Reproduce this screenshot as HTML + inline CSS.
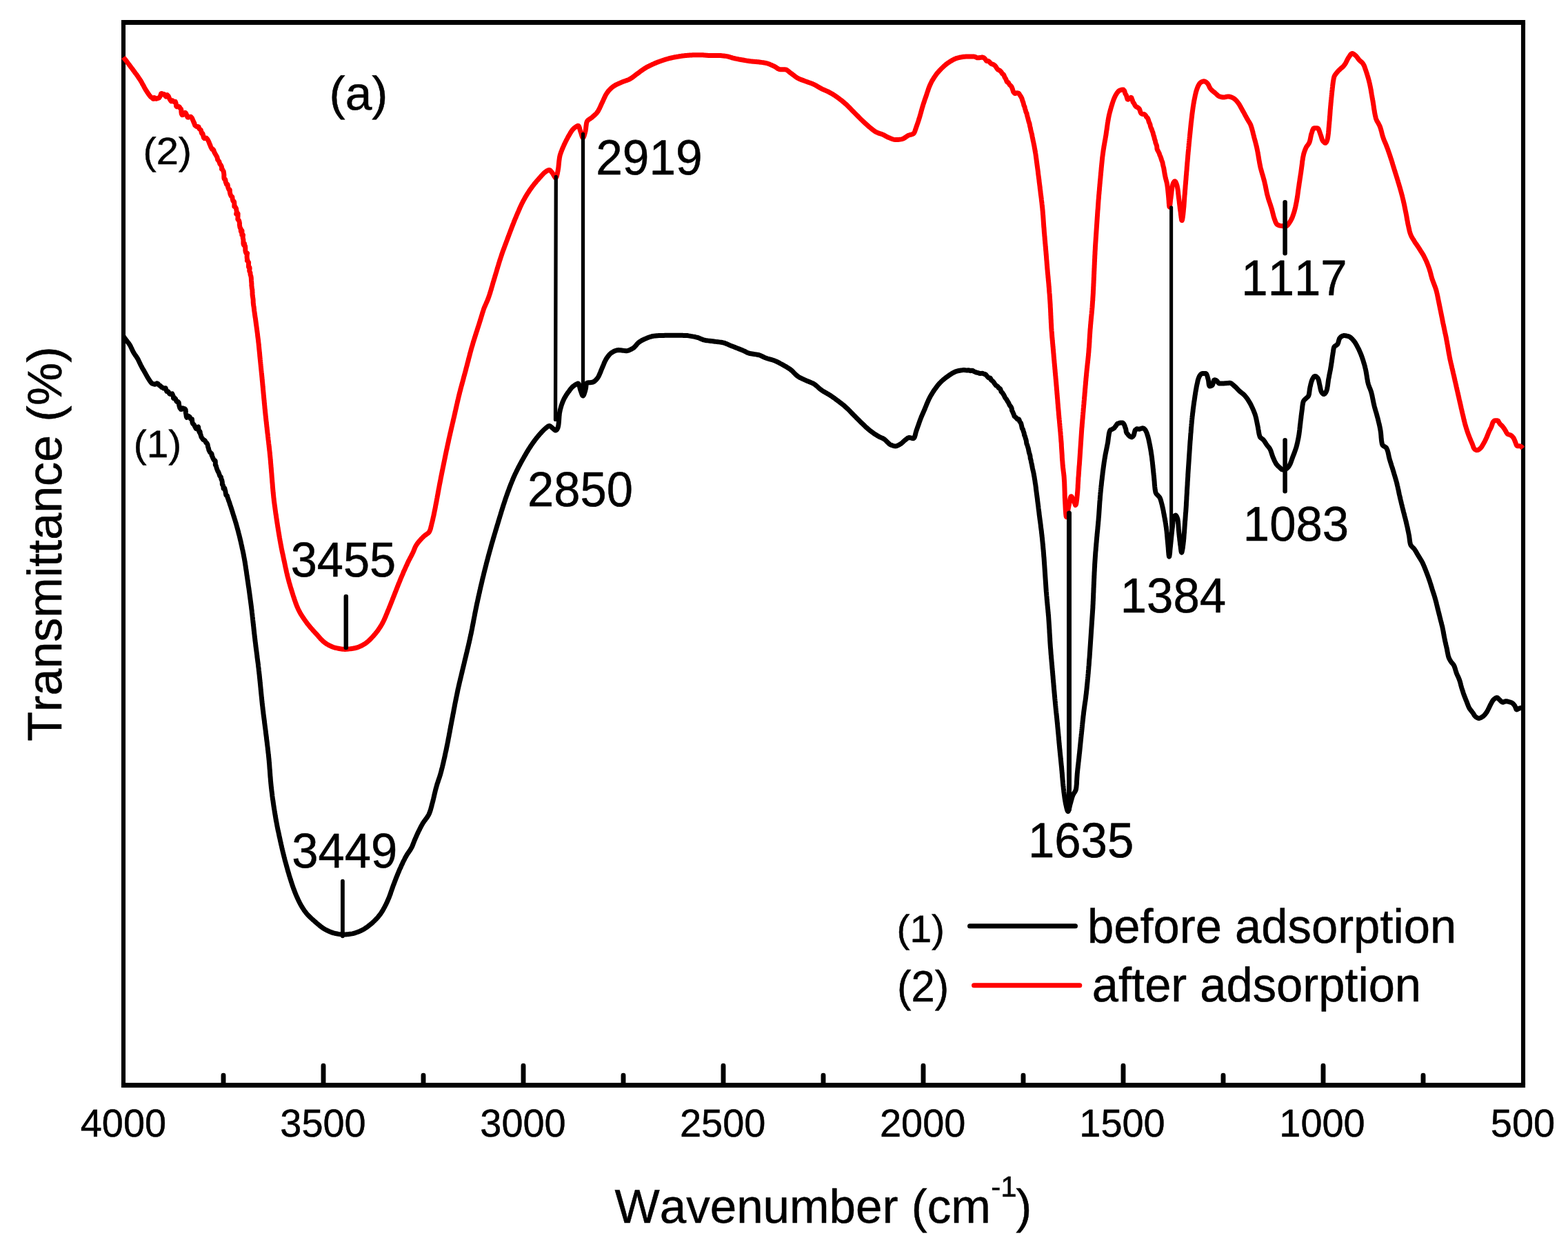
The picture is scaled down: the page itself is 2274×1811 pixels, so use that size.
<!DOCTYPE html>
<html lang="en">
<head>
<meta charset="utf-8">
<title>FTIR spectra before and after adsorption</title>
<style>
html,body{margin:0;padding:0;background:#fff;}
body{width:2274px;height:1811px;overflow:hidden;font-family:"Liberation Sans", sans-serif;}
svg{display:block;}
</style>
</head>
<body>
<svg width="2274" height="1811" viewBox="0 0 2274 1811" font-family='"Liberation Sans", sans-serif' fill="#000" style="font-kerning:none" text-rendering="geometricPrecision">
<g id="frame" stroke="#000" fill="none"><line x1="175.95" y1="32.55" x2="2212.05" y2="32.55" stroke-width="7.0"/><line x1="175.95" y1="1573.4" x2="2212.05" y2="1573.4" stroke-width="7.0"/><line x1="179.0" y1="32.55" x2="179.0" y2="1573.4" stroke-width="6.1"/><line x1="2209.0" y1="32.55" x2="2209.0" y2="1573.4" stroke-width="6.1"/></g>
<path id="ticks" d="M469.0,1573.4 V1545.3 M759.0,1573.4 V1545.3 M1049.0,1573.4 V1545.3 M1339.0,1573.4 V1545.3 M1629.0,1573.4 V1545.3 M1919.0,1573.4 V1545.3 M324.0,1573.4 V1559.2 M614.0,1573.4 V1559.2 M904.0,1573.4 V1559.2 M1194.0,1573.4 V1559.2 M1484.0,1573.4 V1559.2 M1774.0,1573.4 V1559.2 M2064.0,1573.4 V1559.2" stroke="#000" stroke-width="6.9" fill="none" stroke-linecap="round"/>
<path id="spectrum-before" d="M179.0,487.5 L179.8,488.7 L180.7,490.0 L181.6,491.2 L182.4,492.4 L183.3,493.6 L184.3,494.8 L185.2,496.0 L186.2,497.2 L187.1,498.4 L187.9,499.6 L188.7,500.9 L189.4,502.2 L190.0,503.5 L190.7,504.9 L191.3,506.3 L191.9,507.6 L192.6,509.0 L193.3,510.3 L194.0,511.6 L194.8,512.9 L195.6,514.1 L196.5,515.4 L197.4,516.6 L198.2,517.8 L199.0,519.1 L199.8,520.4 L200.5,521.7 L201.1,523.1 L201.8,524.4 L202.4,525.8 L203.1,527.1 L203.7,528.5 L204.4,529.9 L205.1,531.2 L205.8,532.5 L206.5,533.8 L207.2,535.1 L208.0,536.4 L208.8,537.7 L209.5,539.0 L210.3,540.3 L211.0,541.6 L211.7,542.9 L212.5,544.3 L213.2,545.6 L213.9,546.9 L214.7,548.2 L215.5,549.5 L216.4,550.8 L217.2,552.1 L218.1,553.4 L219.2,554.8 L220.4,556.0 L221.4,556.6 L222.6,556.7 L224.5,557.3 L226.0,556.9 L227.5,555.7 L229.2,556.4 L230.4,558.1 L231.4,559.1 L232.3,559.2 L233.1,560.0 L234.3,561.4 L236.0,562.1 L237.3,563.0 L238.7,563.1 L240.1,562.7 L240.9,565.0 L241.8,567.4 L242.9,567.3 L244.1,567.9 L245.1,569.8 L246.1,571.2 L247.8,571.7 L249.4,570.9 L249.7,570.8 L250.5,572.7 L251.4,575.1 L251.5,577.3 L252.1,577.8 L253.4,577.1 L254.8,578.8 L255.9,581.9 L257.1,582.9 L258.4,582.6 L259.2,583.8 L259.5,586.0 L259.8,588.1 L260.4,590.1 L260.8,591.4 L261.5,592.2 L262.4,593.6 L263.4,593.6 L265.1,591.9 L266.7,592.5 L267.4,593.0 L268.2,592.8 L269.2,594.4 L269.3,596.6 L269.5,599.1 L269.9,601.2 L270.2,603.6 L270.8,605.4 L271.9,604.9 L273.5,603.4 L275.0,604.4 L276.4,607.2 L277.7,607.7 L278.4,607.7 L278.6,609.4 L278.8,611.5 L279.2,613.4 L279.8,614.4 L280.8,615.2 L281.8,616.6 L282.5,618.2 L283.1,619.3 L284.2,621.5 L285.7,622.1 L287.1,619.3 L287.6,619.0 L288.2,623.8 L289.2,626.8 L289.8,625.5 L290.1,626.0 L290.4,628.7 L290.8,629.9 L291.3,631.1 L291.8,633.2 L292.8,634.9 L293.7,636.0 L294.3,637.1 L295.3,637.8 L296.6,638.4 L297.5,639.4 L298.2,640.7 L298.9,642.0 L300.0,642.6 L301.1,644.7 L301.6,647.9 L302.0,649.1 L302.4,650.0 L302.7,651.5 L302.8,652.3 L303.5,653.8 L304.5,655.8 L305.3,656.6 L306.6,657.4 L307.3,659.3 L307.0,660.0 L307.0,660.2 L307.8,661.7 L309.1,664.8 L310.2,667.1 L310.9,667.4 L311.6,667.5 L312.2,668.3 L312.4,671.2 L312.3,674.1 L312.7,674.6 L313.3,675.4 L313.9,677.7 L314.6,680.0 L315.5,682.3 L316.3,684.1 L316.4,683.9 L316.5,683.8 L317.1,685.3 L317.8,687.1 L318.3,688.7 L318.8,690.2 L319.5,690.8 L320.4,691.7 L320.8,694.0 L320.9,695.0 L321.7,696.0 L322.4,699.4 L322.3,702.0 L322.5,702.8 L323.1,702.9 L323.8,704.9 L324.1,708.4 L324.7,708.7 L325.6,707.6 L326.0,708.9 L326.3,710.5 L326.8,711.8 L327.1,713.6 L327.4,715.7 L327.8,717.8 L328.6,718.5 L329.4,718.7 L329.8,720.3 L330.3,722.2 L331.1,724.1 L331.5,725.7 L332.0,726.9 L332.6,728.3 L333.1,730.1 L333.5,731.4 L333.9,732.5 L334.4,733.9 L334.9,735.4 L335.3,736.8 L335.8,738.2 L336.3,739.7 L336.7,741.1 L337.2,742.5 L337.6,744.0 L338.1,745.4 L338.5,746.8 L339.0,748.3 L339.4,749.7 L339.9,751.1 L340.3,752.6 L340.8,754.0 L341.2,755.4 L341.6,756.9 L342.1,758.3 L342.5,759.7 L342.9,761.2 L343.3,762.6 L343.7,764.1 L344.1,765.5 L344.5,767.0 L344.9,768.4 L345.3,769.9 L345.7,771.3 L346.0,772.8 L346.4,774.2 L346.8,775.7 L347.2,777.1 L347.5,778.6 L347.9,780.0 L348.2,781.5 L348.6,783.0 L348.9,784.4 L349.3,785.9 L349.6,787.4 L349.9,788.8 L350.3,790.3 L350.6,791.7 L350.9,793.2 L351.2,794.7 L351.5,796.1 L351.9,797.6 L352.2,799.1 L352.5,800.6 L352.8,802.0 L353.1,803.5 L353.4,805.0 L353.6,806.4 L353.9,807.9 L354.2,809.4 L354.5,810.9 L354.7,812.3 L355.0,813.8 L355.2,815.3 L355.5,816.8 L355.7,818.3 L355.9,819.7 L356.2,821.2 L356.4,822.7 L356.6,824.2 L356.8,825.7 L357.1,827.2 L357.3,828.7 L357.5,830.1 L357.7,831.6 L357.9,833.1 L358.1,834.6 L358.4,836.1 L358.6,837.6 L358.8,839.0 L359.0,840.5 L359.2,842.0 L359.5,843.5 L359.7,845.0 L359.9,846.5 L360.1,848.0 L360.3,849.4 L360.5,850.9 L360.8,852.4 L361.0,853.9 L361.2,855.4 L361.4,856.9 L361.6,858.4 L361.8,859.8 L362.0,861.3 L362.2,862.8 L362.4,864.3 L362.6,865.8 L362.8,867.3 L363.0,868.8 L363.2,870.3 L363.4,871.7 L363.6,873.2 L363.8,874.7 L364.0,876.2 L364.2,877.7 L364.4,879.2 L364.6,880.7 L364.7,882.2 L364.9,883.6 L365.1,885.1 L365.3,886.6 L365.4,888.1 L365.6,889.6 L365.8,891.1 L366.0,892.6 L366.1,894.1 L366.3,895.6 L366.5,897.1 L366.6,898.6 L366.8,900.1 L366.9,901.5 L367.1,903.0 L367.3,904.5 L367.4,906.0 L367.6,907.5 L367.8,909.0 L367.9,910.5 L368.1,912.0 L368.2,913.5 L368.4,915.0 L368.6,916.5 L368.7,918.0 L368.9,919.4 L369.1,920.9 L369.2,922.4 L369.4,923.9 L369.6,925.4 L369.8,926.9 L369.9,928.4 L370.1,929.9 L370.3,931.4 L370.5,932.9 L370.7,934.4 L370.8,935.8 L371.0,937.3 L371.2,938.8 L371.4,940.3 L371.6,941.8 L371.8,943.3 L372.0,944.8 L372.2,946.3 L372.4,947.8 L372.6,949.2 L372.8,950.7 L372.9,952.2 L373.1,953.7 L373.3,955.2 L373.5,956.7 L373.7,958.2 L373.9,959.7 L374.1,961.1 L374.3,962.6 L374.5,964.1 L374.6,965.6 L374.8,967.1 L375.0,968.6 L375.2,970.1 L375.3,971.6 L375.5,973.1 L375.7,974.6 L375.8,976.1 L376.0,977.5 L376.2,979.0 L376.3,980.5 L376.5,982.0 L376.6,983.5 L376.8,985.0 L376.9,986.5 L377.1,988.0 L377.2,989.5 L377.4,991.0 L377.5,992.5 L377.7,994.0 L377.8,995.5 L378.0,997.0 L378.1,998.4 L378.2,999.9 L378.4,1001.4 L378.5,1002.9 L378.7,1004.4 L378.8,1005.9 L379.0,1007.4 L379.1,1008.9 L379.3,1010.4 L379.4,1011.9 L379.6,1013.4 L379.7,1014.9 L379.9,1016.4 L380.0,1017.9 L380.2,1019.4 L380.3,1020.8 L380.5,1022.3 L380.7,1023.8 L380.9,1025.3 L381.0,1026.8 L381.2,1028.3 L381.4,1029.8 L381.6,1031.3 L381.8,1032.8 L381.9,1034.3 L382.1,1035.7 L382.3,1037.2 L382.5,1038.7 L382.7,1040.2 L382.9,1041.7 L383.1,1043.2 L383.3,1044.7 L383.5,1046.2 L383.6,1047.7 L383.8,1049.1 L384.0,1050.6 L384.2,1052.1 L384.4,1053.6 L384.6,1055.1 L384.8,1056.6 L385.0,1058.1 L385.2,1059.6 L385.4,1061.1 L385.5,1062.5 L385.7,1064.0 L385.9,1065.5 L386.1,1067.0 L386.3,1068.5 L386.5,1070.0 L386.6,1071.5 L386.8,1073.0 L387.0,1074.5 L387.2,1076.0 L387.4,1077.4 L387.5,1078.9 L387.7,1080.4 L387.9,1081.9 L388.1,1083.4 L388.3,1084.9 L388.4,1086.4 L388.6,1087.9 L388.8,1089.4 L388.9,1090.9 L389.1,1092.4 L389.3,1093.8 L389.4,1095.3 L389.6,1096.8 L389.7,1098.3 L389.9,1099.8 L390.0,1101.3 L390.2,1102.8 L390.3,1104.3 L390.4,1105.8 L390.6,1107.3 L390.7,1108.8 L390.8,1110.3 L390.9,1111.8 L391.0,1113.3 L391.1,1114.8 L391.3,1116.3 L391.4,1117.8 L391.5,1119.3 L391.6,1120.8 L391.7,1122.3 L391.8,1123.8 L391.9,1125.2 L392.0,1126.7 L392.2,1128.2 L392.3,1129.7 L392.4,1131.2 L392.5,1132.7 L392.7,1134.2 L392.8,1135.7 L393.0,1137.2 L393.1,1138.7 L393.3,1140.2 L393.4,1141.7 L393.6,1143.2 L393.8,1144.7 L393.9,1146.2 L394.1,1147.6 L394.3,1149.1 L394.5,1150.6 L394.7,1152.1 L394.8,1153.6 L395.0,1155.1 L395.2,1156.6 L395.4,1158.1 L395.6,1159.6 L395.9,1161.0 L396.1,1162.5 L396.3,1164.0 L396.5,1165.5 L396.7,1167.0 L396.9,1168.5 L397.2,1170.0 L397.4,1171.4 L397.6,1172.9 L397.9,1174.4 L398.1,1175.9 L398.3,1177.4 L398.6,1178.9 L398.8,1180.3 L399.1,1181.8 L399.3,1183.3 L399.6,1184.8 L399.8,1186.2 L400.1,1187.7 L400.3,1189.2 L400.6,1190.7 L400.9,1192.1 L401.2,1193.6 L401.5,1195.1 L401.7,1196.6 L402.0,1198.0 L402.3,1199.5 L402.6,1201.0 L402.9,1202.5 L403.2,1203.9 L403.5,1205.4 L403.9,1206.9 L404.2,1208.3 L404.5,1209.8 L404.8,1211.3 L405.1,1212.7 L405.4,1214.2 L405.8,1215.7 L406.1,1217.1 L406.4,1218.6 L406.7,1220.1 L407.1,1221.5 L407.4,1223.0 L407.7,1224.5 L408.1,1225.9 L408.4,1227.4 L408.7,1228.8 L409.1,1230.3 L409.4,1231.8 L409.8,1233.2 L410.1,1234.7 L410.5,1236.1 L410.8,1237.6 L411.2,1239.1 L411.6,1240.5 L411.9,1242.0 L412.3,1243.4 L412.7,1244.9 L413.0,1246.3 L413.4,1247.8 L413.8,1249.2 L414.2,1250.7 L414.6,1252.1 L415.0,1253.6 L415.4,1255.0 L415.8,1256.5 L416.2,1257.9 L416.6,1259.4 L417.0,1260.8 L417.4,1262.3 L417.8,1263.7 L418.3,1265.1 L418.7,1266.6 L419.1,1268.0 L419.5,1269.5 L420.0,1270.9 L420.4,1272.3 L420.9,1273.8 L421.3,1275.2 L421.8,1276.7 L422.2,1278.1 L422.7,1279.5 L423.2,1281.0 L423.6,1282.4 L424.1,1283.8 L424.6,1285.2 L425.1,1286.7 L425.6,1288.1 L426.1,1289.5 L426.7,1290.9 L427.2,1292.3 L427.7,1293.7 L428.3,1295.1 L428.8,1296.4 L429.4,1297.8 L430.0,1299.2 L430.6,1300.5 L431.2,1301.9 L431.8,1303.3 L432.5,1304.7 L433.1,1306.0 L433.8,1307.4 L434.5,1308.8 L435.2,1310.1 L435.9,1311.5 L436.7,1312.8 L437.4,1314.1 L438.2,1315.4 L439.0,1316.7 L439.8,1317.9 L440.6,1319.1 L441.4,1320.4 L442.3,1321.5 L443.2,1322.7 L444.1,1323.9 L445.0,1325.0 L446.0,1326.1 L447.1,1327.2 L448.1,1328.3 L449.2,1329.4 L450.3,1330.4 L451.4,1331.5 L452.5,1332.5 L453.6,1333.5 L454.8,1334.5 L455.9,1335.5 L457.0,1336.5 L458.2,1337.5 L459.3,1338.5 L460.4,1339.5 L461.6,1340.4 L462.8,1341.4 L463.9,1342.4 L465.1,1343.3 L466.4,1344.2 L467.6,1345.1 L468.8,1346.0 L470.1,1346.8 L471.3,1347.5 L472.6,1348.2 L473.9,1348.9 L475.3,1349.5 L476.7,1350.2 L478.1,1350.8 L479.5,1351.4 L480.9,1351.9 L482.3,1352.4 L483.8,1352.9 L485.2,1353.2 L486.7,1353.6 L488.1,1353.8 L489.6,1354.1 L491.1,1354.4 L492.6,1354.6 L494.1,1354.8 L495.6,1355.0 L497.1,1355.1 L498.6,1355.1 L500.1,1355.1 L501.6,1355.0 L503.1,1354.8 L504.6,1354.7 L506.1,1354.5 L507.6,1354.3 L509.0,1354.1 L510.5,1353.9 L512.0,1353.6 L513.4,1353.2 L514.9,1352.8 L516.3,1352.3 L517.8,1351.8 L519.2,1351.3 L520.6,1350.7 L522.0,1350.1 L523.3,1349.5 L524.6,1348.9 L526.0,1348.2 L527.3,1347.5 L528.6,1346.7 L529.8,1345.9 L531.1,1345.0 L532.4,1344.2 L533.6,1343.3 L534.8,1342.3 L536.0,1341.4 L537.1,1340.5 L538.3,1339.5 L539.4,1338.6 L540.5,1337.6 L541.6,1336.5 L542.7,1335.5 L543.8,1334.4 L544.9,1333.3 L545.9,1332.2 L547.0,1331.1 L548.0,1330.0 L548.9,1328.8 L549.9,1327.6 L550.8,1326.5 L551.7,1325.3 L552.5,1324.1 L553.3,1322.9 L554.1,1321.6 L554.9,1320.3 L555.7,1319.0 L556.4,1317.7 L557.1,1316.4 L557.8,1315.1 L558.5,1313.7 L559.2,1312.4 L559.9,1311.0 L560.5,1309.6 L561.2,1308.3 L561.8,1306.9 L562.4,1305.5 L563.0,1304.1 L563.6,1302.8 L564.2,1301.4 L564.7,1300.0 L565.2,1298.6 L565.8,1297.2 L566.3,1295.8 L566.7,1294.3 L567.2,1292.9 L567.7,1291.5 L568.2,1290.1 L568.7,1288.6 L569.2,1287.2 L569.7,1285.8 L570.2,1284.4 L570.7,1283.0 L571.3,1281.6 L571.8,1280.2 L572.3,1278.8 L572.9,1277.4 L573.4,1276.0 L573.9,1274.6 L574.5,1273.2 L575.0,1271.8 L575.6,1270.4 L576.2,1269.0 L576.7,1267.6 L577.3,1266.2 L577.9,1264.8 L578.5,1263.4 L579.0,1262.1 L579.6,1260.7 L580.2,1259.3 L580.9,1258.0 L581.5,1256.6 L582.1,1255.2 L582.7,1253.8 L583.4,1252.5 L584.0,1251.1 L584.6,1249.8 L585.3,1248.4 L586.0,1247.1 L586.7,1245.7 L587.3,1244.4 L588.0,1243.1 L588.8,1241.8 L589.5,1240.5 L590.3,1239.2 L591.1,1237.9 L591.9,1236.7 L592.8,1235.4 L593.6,1234.2 L594.5,1232.9 L595.3,1231.7 L596.1,1230.4 L596.8,1229.1 L597.5,1227.8 L598.1,1226.4 L598.7,1225.0 L599.2,1223.6 L599.7,1222.2 L600.3,1220.8 L600.8,1219.4 L601.4,1218.0 L602.0,1216.6 L602.6,1215.2 L603.2,1213.9 L603.8,1212.5 L604.4,1211.1 L605.0,1209.8 L605.7,1208.4 L606.3,1207.0 L606.9,1205.7 L607.6,1204.3 L608.3,1203.0 L608.9,1201.6 L609.6,1200.3 L610.3,1199.0 L611.0,1197.6 L611.7,1196.3 L612.5,1195.0 L613.2,1193.7 L614.1,1192.5 L614.9,1191.2 L615.8,1190.0 L616.7,1188.8 L617.6,1187.5 L618.5,1186.3 L619.4,1185.1 L620.2,1183.8 L621.0,1182.6 L621.7,1181.3 L622.4,1179.9 L622.9,1178.6 L623.4,1177.2 L623.9,1175.8 L624.4,1174.4 L624.8,1172.9 L625.2,1171.4 L625.6,1170.0 L626.0,1168.5 L626.3,1167.1 L626.7,1165.6 L627.1,1164.2 L627.5,1162.7 L627.9,1161.3 L628.2,1159.8 L628.6,1158.3 L628.9,1156.9 L629.3,1155.4 L629.6,1154.0 L629.9,1152.5 L630.3,1151.0 L630.6,1149.6 L631.0,1148.1 L631.3,1146.6 L631.7,1145.2 L632.1,1143.7 L632.5,1142.3 L632.9,1140.8 L633.3,1139.4 L633.7,1138.0 L634.1,1136.5 L634.6,1135.1 L635.1,1133.7 L635.5,1132.3 L636.0,1130.8 L636.5,1129.4 L637.0,1128.0 L637.5,1126.6 L637.9,1125.1 L638.4,1123.7 L638.8,1122.3 L639.2,1120.8 L639.6,1119.4 L640.0,1117.9 L640.3,1116.5 L640.7,1115.0 L641.1,1113.6 L641.5,1112.1 L641.8,1110.7 L642.2,1109.2 L642.5,1107.7 L642.9,1106.3 L643.2,1104.8 L643.5,1103.3 L643.9,1101.9 L644.2,1100.4 L644.5,1099.0 L644.9,1097.5 L645.2,1096.0 L645.5,1094.5 L645.8,1093.1 L646.1,1091.6 L646.4,1090.1 L646.8,1088.7 L647.1,1087.2 L647.4,1085.7 L647.7,1084.3 L648.0,1082.8 L648.3,1081.3 L648.6,1079.9 L648.9,1078.4 L649.2,1076.9 L649.5,1075.4 L649.8,1074.0 L650.0,1072.5 L650.3,1071.0 L650.6,1069.6 L650.9,1068.1 L651.2,1066.6 L651.4,1065.1 L651.7,1063.7 L652.0,1062.2 L652.3,1060.7 L652.5,1059.2 L652.8,1057.8 L653.1,1056.3 L653.4,1054.8 L653.6,1053.3 L653.9,1051.8 L654.2,1050.4 L654.5,1048.9 L654.8,1047.4 L655.0,1046.0 L655.3,1044.5 L655.6,1043.0 L655.9,1041.5 L656.2,1040.1 L656.5,1038.6 L656.7,1037.1 L657.0,1035.6 L657.3,1034.2 L657.6,1032.7 L657.9,1031.2 L658.1,1029.7 L658.4,1028.3 L658.7,1026.8 L659.0,1025.3 L659.3,1023.8 L659.5,1022.4 L659.8,1020.9 L660.1,1019.4 L660.4,1017.9 L660.7,1016.5 L661.0,1015.0 L661.3,1013.5 L661.6,1012.1 L661.9,1010.6 L662.2,1009.1 L662.5,1007.6 L662.8,1006.2 L663.1,1004.7 L663.4,1003.2 L663.7,1001.8 L664.0,1000.3 L664.3,998.8 L664.7,997.4 L665.0,995.9 L665.3,994.5 L665.7,993.0 L666.0,991.5 L666.3,990.1 L666.7,988.6 L667.0,987.1 L667.4,985.7 L667.7,984.2 L668.1,982.8 L668.4,981.3 L668.8,979.8 L669.1,978.4 L669.5,976.9 L669.8,975.5 L670.2,974.0 L670.5,972.5 L670.9,971.1 L671.2,969.6 L671.6,968.2 L671.9,966.7 L672.3,965.3 L672.6,963.8 L673.0,962.3 L673.3,960.9 L673.7,959.4 L674.0,957.9 L674.4,956.5 L674.7,955.0 L675.1,953.6 L675.4,952.1 L675.8,950.7 L676.1,949.2 L676.5,947.7 L676.8,946.3 L677.2,944.8 L677.5,943.4 L677.9,941.9 L678.2,940.4 L678.6,939.0 L678.9,937.5 L679.3,936.1 L679.6,934.6 L679.9,933.1 L680.3,931.7 L680.6,930.2 L680.9,928.7 L681.3,927.3 L681.6,925.8 L681.9,924.3 L682.2,922.9 L682.5,921.4 L682.9,919.9 L683.2,918.5 L683.5,917.0 L683.8,915.5 L684.1,914.1 L684.4,912.6 L684.7,911.1 L684.9,909.7 L685.2,908.2 L685.5,906.7 L685.8,905.2 L686.1,903.8 L686.4,902.3 L686.7,900.8 L686.9,899.3 L687.2,897.9 L687.5,896.4 L687.8,894.9 L688.1,893.4 L688.4,892.0 L688.6,890.5 L688.9,889.0 L689.2,887.5 L689.5,886.1 L689.8,884.6 L690.1,883.1 L690.4,881.7 L690.7,880.2 L691.0,878.7 L691.3,877.3 L691.6,875.8 L691.9,874.3 L692.3,872.9 L692.6,871.4 L692.9,869.9 L693.2,868.5 L693.5,867.0 L693.9,865.5 L694.2,864.1 L694.5,862.6 L694.8,861.1 L695.2,859.7 L695.5,858.2 L695.8,856.7 L696.1,855.3 L696.5,853.8 L696.8,852.3 L697.1,850.9 L697.5,849.4 L697.8,848.0 L698.2,846.5 L698.5,845.0 L698.9,843.6 L699.2,842.1 L699.5,840.6 L699.9,839.2 L700.2,837.7 L700.6,836.3 L701.0,834.8 L701.3,833.4 L701.7,831.9 L702.0,830.4 L702.4,829.0 L702.8,827.5 L703.1,826.1 L703.5,824.6 L703.9,823.2 L704.2,821.7 L704.6,820.3 L705.0,818.8 L705.3,817.3 L705.7,815.9 L706.1,814.4 L706.5,813.0 L706.9,811.5 L707.3,810.1 L707.6,808.6 L708.0,807.2 L708.4,805.7 L708.8,804.3 L709.2,802.8 L709.6,801.4 L710.0,799.9 L710.4,798.5 L710.8,797.1 L711.2,795.6 L711.6,794.2 L712.0,792.7 L712.4,791.3 L712.8,789.8 L713.2,788.4 L713.6,786.9 L714.1,785.5 L714.5,784.1 L714.9,782.6 L715.3,781.2 L715.7,779.7 L716.2,778.3 L716.6,776.9 L717.0,775.4 L717.4,774.0 L717.9,772.5 L718.3,771.1 L718.7,769.7 L719.2,768.2 L719.6,766.8 L720.0,765.4 L720.5,763.9 L720.9,762.5 L721.3,761.0 L721.8,759.6 L722.2,758.2 L722.6,756.7 L723.1,755.3 L723.5,753.9 L723.9,752.4 L724.4,751.0 L724.8,749.6 L725.2,748.1 L725.7,746.7 L726.1,745.2 L726.6,743.8 L727.0,742.4 L727.4,740.9 L727.9,739.5 L728.3,738.1 L728.8,736.6 L729.2,735.2 L729.7,733.8 L730.1,732.3 L730.6,730.9 L731.1,729.5 L731.5,728.1 L732.0,726.6 L732.5,725.2 L732.9,723.8 L733.4,722.4 L733.9,721.0 L734.4,719.5 L734.9,718.1 L735.4,716.7 L735.9,715.3 L736.4,713.9 L736.9,712.5 L737.5,711.1 L738.0,709.6 L738.5,708.2 L739.0,706.8 L739.6,705.4 L740.1,704.0 L740.6,702.6 L741.2,701.2 L741.8,699.8 L742.3,698.4 L742.9,697.1 L743.5,695.7 L744.0,694.3 L744.6,692.9 L745.2,691.5 L745.8,690.2 L746.4,688.8 L747.1,687.4 L747.7,686.1 L748.4,684.7 L749.0,683.4 L749.7,682.0 L750.4,680.7 L751.0,679.3 L751.7,678.0 L752.4,676.7 L753.1,675.3 L753.8,674.0 L754.5,672.7 L755.2,671.4 L755.9,670.0 L756.7,668.7 L757.4,667.4 L758.1,666.1 L758.8,664.8 L759.6,663.5 L760.3,662.2 L761.1,660.9 L761.8,659.6 L762.6,658.3 L763.3,657.0 L764.1,655.7 L764.9,654.4 L765.7,653.1 L766.4,651.8 L767.2,650.6 L768.1,649.3 L768.9,648.0 L769.7,646.8 L770.5,645.5 L771.4,644.3 L772.2,643.1 L773.1,641.9 L774.0,640.6 L774.9,639.4 L775.8,638.2 L776.7,637.0 L777.6,635.8 L778.5,634.6 L779.5,633.5 L780.4,632.3 L781.4,631.2 L782.4,630.0 L783.4,628.9 L784.4,627.8 L785.4,626.7 L786.4,625.6 L787.5,624.5 L788.6,623.4 L789.6,622.4 L790.8,621.4 L791.9,620.5 L793.1,619.4 L794.4,618.4 L795.7,617.7 L796.9,617.6 L798.2,618.1 L799.5,619.2 L800.7,620.2 L801.9,621.2 L803.2,622.4 L804.4,623.5 L805.5,624.1 L806.6,623.8 L807.7,622.7 L808.6,621.1 L809.2,619.6 L809.5,618.3 L809.8,616.9 L810.0,615.5 L810.2,614.0 L810.3,612.5 L810.5,611.0 L810.6,609.5 L810.7,607.9 L810.8,606.4 L810.9,604.8 L811.0,603.3 L811.2,601.7 L811.3,600.2 L811.5,598.7 L811.8,597.3 L812.1,595.8 L812.4,594.3 L812.8,592.9 L813.2,591.4 L813.6,589.9 L814.0,588.5 L814.5,587.0 L815.0,585.6 L815.5,584.2 L816.0,582.8 L816.6,581.5 L817.2,580.1 L817.8,578.8 L818.5,577.4 L819.2,576.1 L820.0,574.8 L820.8,573.5 L821.6,572.2 L822.5,571.0 L823.3,569.7 L824.2,568.5 L825.1,567.3 L826.0,566.1 L826.9,564.8 L827.8,563.6 L828.8,562.5 L829.8,561.4 L830.9,560.4 L832.1,559.5 L833.5,558.5 L835.0,557.5 L836.4,556.7 L837.7,556.2 L838.5,556.0 L839.2,556.5 L839.7,557.7 L840.2,559.2 L840.6,561.0 L841.1,562.9 L841.5,564.7 L842.0,566.2 L842.6,567.8 L843.2,569.7 L843.8,571.4 L844.4,572.9 L845.0,573.8 L845.6,574.0 L846.2,573.3 L846.9,572.0 L847.5,570.3 L848.1,568.5 L848.6,566.8 L849.0,565.2 L849.4,563.6 L849.7,561.8 L849.9,559.9 L850.1,558.2 L850.4,556.8 L850.8,555.8 L851.3,555.2 L852.3,555.0 L853.8,554.8 L855.6,554.7 L857.4,554.5 L859.0,554.3 L860.3,553.9 L861.6,553.2 L862.8,552.2 L864.0,551.1 L865.1,549.9 L866.1,548.8 L866.9,547.6 L867.7,546.4 L868.4,545.1 L869.0,543.8 L869.6,542.4 L870.2,541.0 L870.8,539.6 L871.4,538.1 L871.9,536.7 L872.5,535.3 L873.1,533.9 L873.7,532.5 L874.3,531.1 L874.9,529.7 L875.5,528.3 L876.0,526.9 L876.6,525.5 L877.2,524.1 L877.9,522.8 L878.6,521.5 L879.3,520.2 L880.1,519.0 L881.0,517.7 L881.9,516.4 L882.9,515.2 L883.9,514.0 L885.0,513.0 L886.1,512.0 L887.3,511.2 L888.5,510.5 L889.8,509.7 L891.2,509.0 L892.7,508.4 L894.1,508.0 L895.6,507.7 L897.1,507.6 L898.6,507.7 L900.0,507.8 L901.6,508.0 L903.1,508.2 L904.6,508.4 L906.1,508.6 L907.6,508.7 L909.0,508.7 L910.5,508.4 L912.0,508.0 L913.4,507.4 L914.8,506.7 L916.2,506.0 L917.4,505.3 L918.6,504.5 L919.8,503.6 L920.8,502.5 L921.8,501.4 L922.8,500.2 L923.8,499.0 L924.9,497.9 L926.0,496.8 L927.1,495.9 L928.4,495.1 L929.6,494.3 L930.9,493.5 L932.3,492.8 L933.7,492.2 L935.0,491.5 L936.4,491.0 L937.8,490.4 L939.2,489.8 L940.6,489.3 L942.0,488.8 L943.5,488.3 L944.9,487.9 L946.4,487.5 L947.8,487.3 L949.3,487.1 L950.8,487.0 L952.3,486.8 L953.8,486.7 L955.3,486.6 L956.8,486.5 L958.3,486.4 L959.8,486.4 L961.3,486.4 L962.8,486.4 L964.3,486.3 L965.8,486.3 L967.3,486.3 L968.8,486.3 L970.3,486.3 L971.8,486.3 L973.3,486.3 L974.8,486.3 L976.3,486.3 L977.8,486.3 L979.3,486.3 L980.8,486.3 L982.3,486.3 L983.8,486.3 L985.3,486.3 L986.8,486.3 L988.3,486.3 L989.8,486.3 L991.3,486.4 L992.8,486.4 L994.3,486.4 L995.8,486.5 L997.3,486.6 L998.8,486.9 L1000.3,487.1 L1001.8,487.4 L1003.2,487.6 L1004.7,487.9 L1006.2,488.1 L1007.7,488.4 L1009.2,488.8 L1010.6,489.1 L1012.1,489.5 L1013.5,490.0 L1014.9,490.6 L1016.2,491.2 L1017.6,491.8 L1019.0,492.4 L1020.4,492.9 L1021.8,493.2 L1023.3,493.5 L1024.8,493.7 L1026.3,493.9 L1027.8,494.1 L1029.3,494.3 L1030.8,494.5 L1032.3,494.6 L1033.8,494.8 L1035.3,495.0 L1036.7,495.2 L1038.2,495.4 L1039.7,495.6 L1041.2,495.7 L1042.7,495.9 L1044.2,496.1 L1045.7,496.3 L1047.2,496.5 L1048.6,496.8 L1050.1,497.1 L1051.5,497.6 L1052.9,498.2 L1054.3,498.8 L1055.7,499.4 L1057.0,500.0 L1058.4,500.6 L1059.8,501.2 L1061.2,501.7 L1062.6,502.3 L1064.0,502.8 L1065.4,503.4 L1066.8,503.9 L1068.2,504.5 L1069.6,505.0 L1071.0,505.6 L1072.4,506.1 L1073.8,506.6 L1075.2,507.2 L1076.6,507.8 L1077.9,508.4 L1079.3,509.0 L1080.7,509.7 L1082.0,510.4 L1083.4,511.1 L1084.7,511.7 L1086.1,512.1 L1087.6,512.5 L1089.0,512.8 L1090.5,513.0 L1092.0,513.2 L1093.5,513.5 L1095.0,513.7 L1096.5,513.9 L1098.0,514.2 L1099.4,514.5 L1100.9,514.8 L1102.3,515.3 L1103.7,515.9 L1105.0,516.5 L1106.4,517.2 L1107.8,517.8 L1109.1,518.5 L1110.5,519.0 L1111.9,519.5 L1113.4,520.0 L1114.8,520.4 L1116.3,520.8 L1117.7,521.2 L1119.2,521.6 L1120.6,522.0 L1122.0,522.5 L1123.4,523.0 L1124.8,523.6 L1126.2,524.2 L1127.5,524.8 L1128.9,525.5 L1130.2,526.2 L1131.5,527.0 L1132.8,527.7 L1134.2,528.4 L1135.5,529.1 L1136.8,529.9 L1138.1,530.6 L1139.4,531.3 L1140.7,532.1 L1142.0,532.9 L1143.3,533.7 L1144.5,534.5 L1145.8,535.3 L1146.9,536.2 L1148.1,537.2 L1149.2,538.2 L1150.3,539.3 L1151.3,540.4 L1152.4,541.5 L1153.5,542.6 L1154.6,543.6 L1155.7,544.6 L1156.9,545.5 L1158.1,546.3 L1159.3,547.1 L1160.6,547.8 L1162.0,548.4 L1163.3,549.1 L1164.7,549.7 L1166.1,550.4 L1167.5,551.0 L1168.9,551.6 L1170.2,552.2 L1171.6,552.8 L1173.0,553.4 L1174.4,553.9 L1175.8,554.5 L1177.2,555.1 L1178.6,555.7 L1179.9,556.4 L1181.1,557.2 L1182.3,558.0 L1183.5,559.0 L1184.6,559.9 L1185.8,560.9 L1186.9,562.0 L1188.0,563.0 L1189.2,564.0 L1190.4,564.9 L1191.6,565.8 L1192.8,566.6 L1194.1,567.4 L1195.4,568.2 L1196.7,568.9 L1198.0,569.7 L1199.3,570.4 L1200.6,571.2 L1201.9,571.9 L1203.2,572.7 L1204.4,573.5 L1205.7,574.4 L1206.9,575.2 L1208.1,576.1 L1209.4,576.9 L1210.6,577.8 L1211.8,578.7 L1213.0,579.6 L1214.2,580.5 L1215.4,581.4 L1216.6,582.3 L1217.8,583.2 L1219.0,584.1 L1220.2,585.0 L1221.4,586.0 L1222.6,586.9 L1223.7,587.8 L1224.9,588.8 L1226.0,589.8 L1227.1,590.8 L1228.2,591.8 L1229.3,592.8 L1230.4,593.9 L1231.4,594.9 L1232.5,596.0 L1233.5,597.1 L1234.6,598.2 L1235.6,599.3 L1236.7,600.3 L1237.7,601.4 L1238.8,602.5 L1239.8,603.5 L1240.9,604.6 L1241.9,605.7 L1243.0,606.8 L1244.0,607.8 L1245.1,608.9 L1246.2,609.9 L1247.2,611.0 L1248.3,612.1 L1249.4,613.1 L1250.5,614.1 L1251.5,615.2 L1252.6,616.2 L1253.7,617.2 L1254.8,618.3 L1255.9,619.3 L1257.0,620.3 L1258.2,621.3 L1259.3,622.3 L1260.4,623.2 L1261.6,624.2 L1262.8,625.1 L1264.0,626.0 L1265.2,626.9 L1266.4,627.8 L1267.6,628.7 L1268.9,629.5 L1270.1,630.3 L1271.4,631.1 L1272.7,631.9 L1274.0,632.6 L1275.3,633.3 L1276.7,634.0 L1278.1,634.6 L1279.5,635.2 L1280.8,635.9 L1282.1,636.6 L1283.3,637.5 L1284.4,638.5 L1285.5,639.6 L1286.6,640.7 L1287.7,641.8 L1288.8,642.9 L1289.9,643.9 L1291.1,644.7 L1292.4,645.2 L1293.8,645.8 L1295.3,646.3 L1296.8,646.7 L1298.2,646.9 L1299.7,646.8 L1301.1,646.4 L1302.5,645.8 L1303.9,645.0 L1305.2,644.2 L1306.5,643.5 L1307.6,642.6 L1308.8,641.6 L1309.9,640.5 L1311.0,639.5 L1312.1,638.5 L1313.3,637.6 L1314.6,636.6 L1315.8,635.6 L1317.1,634.8 L1318.5,634.5 L1320.0,634.7 L1321.7,635.1 L1323.2,635.5 L1324.4,635.7 L1325.2,635.4 L1325.9,634.6 L1326.5,633.4 L1327.0,631.8 L1327.5,630.0 L1327.9,628.2 L1328.4,626.3 L1328.9,624.7 L1329.4,623.3 L1329.9,621.9 L1330.4,620.4 L1330.9,619.0 L1331.4,617.6 L1331.9,616.2 L1332.4,614.8 L1332.9,613.3 L1333.4,611.9 L1333.9,610.5 L1334.4,609.1 L1334.9,607.7 L1335.5,606.3 L1336.0,604.9 L1336.6,603.5 L1337.2,602.1 L1337.8,600.8 L1338.4,599.4 L1339.0,598.0 L1339.6,596.6 L1340.2,595.3 L1340.8,593.9 L1341.4,592.5 L1341.9,591.1 L1342.5,589.7 L1343.1,588.3 L1343.6,586.9 L1344.2,585.5 L1344.8,584.1 L1345.4,582.8 L1346.0,581.4 L1346.6,580.0 L1347.2,578.7 L1347.9,577.3 L1348.6,576.0 L1349.3,574.7 L1350.0,573.4 L1350.8,572.1 L1351.6,570.8 L1352.4,569.5 L1353.2,568.2 L1354.0,567.0 L1354.8,565.8 L1355.7,564.5 L1356.6,563.3 L1357.5,562.1 L1358.4,560.9 L1359.3,559.7 L1360.2,558.5 L1361.2,557.3 L1362.2,556.2 L1363.2,555.1 L1364.2,554.1 L1365.3,553.0 L1366.4,552.0 L1367.5,551.0 L1368.7,550.0 L1369.8,549.1 L1371.0,548.1 L1372.2,547.2 L1373.5,546.3 L1374.7,545.5 L1375.9,544.6 L1377.2,543.8 L1378.4,542.9 L1379.7,542.1 L1381.0,541.3 L1382.3,540.5 L1383.7,539.8 L1385.0,539.1 L1386.4,538.6 L1387.8,538.2 L1389.2,537.8 L1390.7,537.5 L1392.2,537.2 L1393.7,536.9 L1395.2,536.8 L1396.6,536.6 L1398.2,536.6 L1399.8,536.7 L1401.3,536.9 L1402.8,537.0 L1404.2,536.8 L1405.9,537.0 L1407.3,537.7 L1408.7,537.3 L1410.1,537.2 L1411.4,537.9 L1412.8,538.7 L1414.6,539.4 L1415.9,540.1 L1417.1,540.3 L1418.7,540.6 L1420.3,541.3 L1421.8,541.6 L1423.3,541.4 L1424.7,541.2 L1425.9,541.7 L1427.0,542.3 L1428.3,542.5 L1429.7,543.2 L1430.9,544.7 L1432.3,546.3 L1433.6,547.7 L1434.9,548.2 L1436.0,548.0 L1436.7,549.1 L1437.4,550.8 L1438.6,551.9 L1440.1,553.0 L1441.4,554.6 L1442.3,556.1 L1443.2,557.2 L1444.0,558.4 L1444.8,559.4 L1446.1,559.6 L1447.2,560.7 L1448.1,562.4 L1449.3,563.0 L1450.6,563.9 L1451.5,566.2 L1452.0,567.9 L1452.7,568.5 L1453.7,569.5 L1454.5,570.7 L1455.4,572.0 L1456.1,573.3 L1456.8,574.8 L1457.3,576.0 L1457.9,576.9 L1458.7,578.1 L1459.6,579.0 L1460.1,579.9 L1460.8,581.3 L1461.8,582.8 L1462.7,584.2 L1463.5,586.0 L1464.3,587.6 L1465.1,588.7 L1465.9,589.6 L1466.7,591.0 L1467.3,592.7 L1467.4,594.3 L1467.6,595.2 L1468.3,596.4 L1469.0,598.1 L1469.6,599.5 L1470.2,600.6 L1470.6,602.2 L1471.2,603.7 L1472.5,604.6 L1474.1,606.1 L1475.4,607.7 L1476.5,607.8 L1477.5,607.8 L1478.3,609.4 L1478.8,611.2 L1479.4,612.0 L1480.3,613.0 L1480.9,614.6 L1481.3,616.3 L1481.8,618.3 L1482.2,620.5 L1482.6,621.9 L1483.2,622.0 L1483.6,622.8 L1484.1,625.2 L1484.7,626.9 L1485.2,628.1 L1485.4,630.0 L1485.6,631.0 L1486.0,631.6 L1486.6,633.0 L1487.0,634.7 L1487.5,636.4 L1488.0,637.8 L1488.3,639.0 L1488.5,640.7 L1488.7,642.4 L1489.0,643.7 L1489.6,644.9 L1490.1,646.4 L1490.4,647.5 L1490.8,648.8 L1491.3,650.4 L1491.6,652.1 L1491.9,653.5 L1492.2,655.0 L1492.6,656.8 L1493.1,658.2 L1493.5,659.4 L1493.9,660.9 L1494.1,662.7 L1494.2,664.4 L1494.6,665.7 L1495.0,666.9 L1495.3,668.4 L1495.6,670.1 L1495.9,671.6 L1496.3,673.0 L1496.5,674.3 L1496.8,675.7 L1497.1,677.4 L1497.4,679.0 L1497.7,680.3 L1498.0,681.7 L1498.4,683.1 L1498.7,684.6 L1499.0,686.0 L1499.3,687.5 L1499.5,689.0 L1499.8,690.5 L1500.1,692.0 L1500.3,693.4 L1500.5,694.9 L1500.8,696.4 L1501.0,697.9 L1501.2,699.4 L1501.4,700.9 L1501.7,702.3 L1501.9,703.8 L1502.1,705.3 L1502.3,706.8 L1502.4,708.3 L1502.6,709.8 L1502.8,711.3 L1503.0,712.8 L1503.2,714.2 L1503.4,715.7 L1503.6,717.2 L1503.8,718.7 L1504.0,720.2 L1504.2,721.7 L1504.4,723.2 L1504.6,724.7 L1504.7,726.2 L1504.9,727.6 L1505.1,729.1 L1505.3,730.6 L1505.5,732.1 L1505.7,733.6 L1505.9,735.1 L1506.0,736.6 L1506.2,738.1 L1506.4,739.6 L1506.6,741.0 L1506.8,742.5 L1507.0,744.0 L1507.1,745.5 L1507.3,747.0 L1507.5,748.5 L1507.7,750.0 L1507.9,751.5 L1508.1,753.0 L1508.3,754.4 L1508.5,755.9 L1508.7,757.4 L1508.9,758.9 L1509.1,760.4 L1509.3,761.9 L1509.4,763.4 L1509.6,764.9 L1509.8,766.4 L1510.0,767.8 L1510.2,769.3 L1510.4,770.8 L1510.5,772.3 L1510.7,773.8 L1510.9,775.3 L1511.0,776.8 L1511.2,778.3 L1511.4,779.8 L1511.5,781.3 L1511.7,782.8 L1511.8,784.3 L1512.0,785.7 L1512.1,787.2 L1512.3,788.7 L1512.4,790.2 L1512.6,791.7 L1512.7,793.2 L1512.8,794.7 L1513.0,796.2 L1513.1,797.7 L1513.2,799.2 L1513.4,800.7 L1513.5,802.2 L1513.6,803.7 L1513.7,805.2 L1513.8,806.7 L1514.0,808.2 L1514.1,809.7 L1514.2,811.2 L1514.3,812.7 L1514.4,814.2 L1514.5,815.7 L1514.6,817.2 L1514.7,818.7 L1514.8,820.1 L1514.9,821.6 L1515.0,823.1 L1515.1,824.6 L1515.2,826.1 L1515.3,827.6 L1515.4,829.1 L1515.5,830.6 L1515.6,832.1 L1515.7,833.6 L1515.8,835.1 L1515.9,836.6 L1516.0,838.1 L1516.1,839.6 L1516.2,841.1 L1516.3,842.6 L1516.4,844.1 L1516.5,845.6 L1516.6,847.1 L1516.7,848.6 L1516.8,850.1 L1516.9,851.6 L1517.0,853.1 L1517.1,854.6 L1517.2,856.1 L1517.3,857.6 L1517.5,859.1 L1517.6,860.6 L1517.7,862.1 L1517.8,863.6 L1518.0,865.1 L1518.1,866.6 L1518.2,868.0 L1518.3,869.5 L1518.5,871.0 L1518.6,872.5 L1518.8,874.0 L1518.9,875.5 L1519.0,877.0 L1519.2,878.5 L1519.3,880.0 L1519.5,881.5 L1519.6,883.0 L1519.8,884.5 L1519.9,886.0 L1520.0,887.5 L1520.2,889.0 L1520.3,890.5 L1520.4,892.0 L1520.6,893.5 L1520.7,894.9 L1520.8,896.4 L1520.9,897.9 L1521.0,899.4 L1521.1,900.9 L1521.2,902.4 L1521.3,903.9 L1521.4,905.4 L1521.5,906.9 L1521.6,908.4 L1521.7,909.9 L1521.8,911.4 L1521.9,912.9 L1522.0,914.4 L1522.0,915.9 L1522.1,917.4 L1522.2,918.9 L1522.3,920.4 L1522.4,921.9 L1522.5,923.4 L1522.6,924.9 L1522.7,926.4 L1522.7,927.9 L1522.8,929.4 L1522.9,930.9 L1523.0,932.4 L1523.1,933.9 L1523.2,935.4 L1523.3,936.9 L1523.4,938.4 L1523.5,939.9 L1523.7,941.4 L1523.8,942.9 L1523.9,944.4 L1524.0,945.9 L1524.1,947.4 L1524.2,948.9 L1524.4,950.3 L1524.5,951.8 L1524.6,953.3 L1524.7,954.8 L1524.9,956.3 L1525.0,957.8 L1525.1,959.3 L1525.3,960.8 L1525.4,962.3 L1525.5,963.8 L1525.7,965.3 L1525.8,966.8 L1525.9,968.3 L1526.0,969.8 L1526.2,971.3 L1526.3,972.8 L1526.4,974.3 L1526.6,975.8 L1526.7,977.3 L1526.8,978.8 L1527.0,980.3 L1527.1,981.7 L1527.2,983.2 L1527.3,984.7 L1527.5,986.2 L1527.6,987.7 L1527.7,989.2 L1527.9,990.7 L1528.0,992.2 L1528.1,993.7 L1528.2,995.2 L1528.4,996.7 L1528.5,998.2 L1528.6,999.7 L1528.8,1001.2 L1528.9,1002.7 L1529.0,1004.2 L1529.2,1005.7 L1529.3,1007.2 L1529.4,1008.7 L1529.6,1010.2 L1529.7,1011.6 L1529.8,1013.1 L1530.0,1014.6 L1530.1,1016.1 L1530.3,1017.6 L1530.4,1019.1 L1530.5,1020.6 L1530.7,1022.1 L1530.8,1023.6 L1531.0,1025.1 L1531.1,1026.6 L1531.3,1028.1 L1531.4,1029.6 L1531.6,1031.1 L1531.7,1032.6 L1531.9,1034.1 L1532.0,1035.5 L1532.2,1037.0 L1532.4,1038.5 L1532.5,1040.0 L1532.7,1041.5 L1532.8,1043.0 L1533.0,1044.5 L1533.1,1046.0 L1533.3,1047.5 L1533.4,1049.0 L1533.6,1050.5 L1533.7,1052.0 L1533.8,1053.5 L1534.0,1055.0 L1534.1,1056.5 L1534.3,1057.9 L1534.4,1059.4 L1534.5,1060.9 L1534.7,1062.4 L1534.8,1063.9 L1535.0,1065.4 L1535.1,1066.9 L1535.2,1068.4 L1535.4,1069.9 L1535.5,1071.4 L1535.6,1072.9 L1535.8,1074.4 L1535.9,1075.9 L1536.0,1077.4 L1536.2,1078.9 L1536.3,1080.4 L1536.5,1081.9 L1536.6,1083.4 L1536.7,1084.8 L1536.9,1086.3 L1537.0,1087.8 L1537.2,1089.3 L1537.3,1090.8 L1537.5,1092.3 L1537.6,1093.8 L1537.8,1095.3 L1537.9,1096.8 L1538.1,1098.3 L1538.2,1099.8 L1538.4,1101.3 L1538.5,1102.8 L1538.7,1104.3 L1538.8,1105.8 L1539.0,1107.2 L1539.1,1108.7 L1539.3,1110.2 L1539.4,1111.7 L1539.6,1113.2 L1539.7,1114.7 L1539.8,1116.2 L1540.0,1117.7 L1540.1,1119.2 L1540.2,1120.7 L1540.4,1122.2 L1540.5,1123.7 L1540.6,1125.2 L1540.7,1126.7 L1540.9,1128.2 L1541.0,1129.7 L1541.1,1131.2 L1541.3,1132.7 L1541.4,1134.2 L1541.5,1135.6 L1541.7,1137.1 L1541.8,1138.6 L1542.0,1140.1 L1542.2,1141.6 L1542.3,1143.1 L1542.5,1144.6 L1542.7,1146.1 L1542.8,1147.6 L1543.0,1149.1 L1543.2,1150.6 L1543.4,1152.1 L1543.6,1153.6 L1543.8,1155.1 L1544.0,1156.6 L1544.2,1158.0 L1544.5,1159.5 L1544.7,1161.0 L1545.0,1162.5 L1545.2,1163.9 L1545.5,1165.4 L1545.9,1167.1 L1546.3,1169.0 L1546.7,1170.9 L1547.2,1172.7 L1547.6,1174.3 L1548.1,1175.6 L1548.6,1176.3 L1549.0,1176.5 L1549.4,1176.0 L1549.9,1174.9 L1550.3,1173.5 L1550.7,1171.8 L1551.2,1169.9 L1551.6,1168.0 L1552.0,1166.2 L1552.5,1164.6 L1552.9,1163.2 L1553.3,1161.7 L1553.7,1160.3 L1554.1,1158.8 L1554.5,1157.4 L1554.9,1155.9 L1555.4,1154.5 L1555.9,1153.1 L1556.6,1151.8 L1557.3,1150.4 L1558.2,1149.1 L1559.0,1147.8 L1559.7,1146.5 L1560.3,1145.1 L1560.6,1143.7 L1560.8,1142.3 L1561.0,1140.9 L1561.1,1139.4 L1561.3,1137.9 L1561.4,1136.4 L1561.5,1134.9 L1561.5,1133.4 L1561.6,1131.9 L1561.7,1130.4 L1561.8,1128.8 L1561.9,1127.3 L1562.0,1125.8 L1562.1,1124.3 L1562.2,1122.8 L1562.3,1121.3 L1562.5,1119.8 L1562.6,1118.3 L1562.8,1116.8 L1562.9,1115.3 L1563.1,1113.8 L1563.3,1112.3 L1563.4,1110.8 L1563.6,1109.4 L1563.8,1107.9 L1563.9,1106.4 L1564.1,1104.9 L1564.3,1103.4 L1564.4,1101.9 L1564.6,1100.4 L1564.8,1098.9 L1564.9,1097.4 L1565.1,1095.9 L1565.2,1094.4 L1565.4,1092.9 L1565.6,1091.5 L1565.7,1090.0 L1565.9,1088.5 L1566.0,1087.0 L1566.2,1085.5 L1566.3,1084.0 L1566.5,1082.5 L1566.6,1081.0 L1566.8,1079.5 L1566.9,1078.0 L1567.1,1076.5 L1567.2,1075.0 L1567.4,1073.5 L1567.5,1072.0 L1567.7,1070.6 L1567.8,1069.1 L1568.0,1067.6 L1568.1,1066.1 L1568.3,1064.6 L1568.5,1063.1 L1568.6,1061.6 L1568.8,1060.1 L1568.9,1058.6 L1569.1,1057.1 L1569.2,1055.6 L1569.4,1054.1 L1569.5,1052.6 L1569.7,1051.1 L1569.8,1049.6 L1570.0,1048.2 L1570.1,1046.7 L1570.3,1045.2 L1570.5,1043.7 L1570.6,1042.2 L1570.8,1040.7 L1570.9,1039.2 L1571.1,1037.7 L1571.3,1036.2 L1571.5,1034.7 L1571.6,1033.2 L1571.8,1031.8 L1572.0,1030.3 L1572.2,1028.8 L1572.4,1027.3 L1572.6,1025.8 L1572.8,1024.3 L1573.0,1022.8 L1573.2,1021.3 L1573.4,1019.9 L1573.6,1018.4 L1573.9,1016.9 L1574.1,1015.4 L1574.3,1013.9 L1574.5,1012.4 L1574.7,1010.9 L1574.8,1009.4 L1575.0,1008.0 L1575.2,1006.5 L1575.4,1005.0 L1575.5,1003.5 L1575.7,1002.0 L1575.9,1000.5 L1576.0,999.0 L1576.2,997.5 L1576.3,996.0 L1576.5,994.5 L1576.6,993.0 L1576.8,991.5 L1576.9,990.0 L1577.1,988.6 L1577.2,987.1 L1577.3,985.6 L1577.5,984.1 L1577.6,982.6 L1577.8,981.1 L1577.9,979.6 L1578.0,978.1 L1578.2,976.6 L1578.3,975.1 L1578.4,973.6 L1578.5,972.1 L1578.7,970.6 L1578.8,969.1 L1578.9,967.6 L1579.0,966.1 L1579.2,964.6 L1579.3,963.1 L1579.4,961.6 L1579.5,960.1 L1579.6,958.6 L1579.7,957.1 L1579.8,955.7 L1580.0,954.2 L1580.1,952.7 L1580.2,951.2 L1580.3,949.7 L1580.4,948.2 L1580.5,946.7 L1580.6,945.2 L1580.7,943.7 L1580.8,942.2 L1580.9,940.7 L1581.0,939.2 L1581.1,937.7 L1581.2,936.2 L1581.3,934.7 L1581.4,933.2 L1581.5,931.7 L1581.6,930.2 L1581.7,928.7 L1581.8,927.2 L1581.9,925.7 L1582.0,924.2 L1582.1,922.7 L1582.2,921.2 L1582.3,919.7 L1582.4,918.2 L1582.5,916.7 L1582.6,915.2 L1582.7,913.7 L1582.8,912.2 L1582.9,910.7 L1583.0,909.2 L1583.1,907.7 L1583.2,906.2 L1583.3,904.7 L1583.4,903.2 L1583.5,901.7 L1583.6,900.3 L1583.7,898.8 L1583.8,897.3 L1583.9,895.8 L1584.0,894.3 L1584.1,892.8 L1584.2,891.3 L1584.3,889.8 L1584.4,888.3 L1584.5,886.8 L1584.6,885.3 L1584.7,883.8 L1584.8,882.3 L1584.9,880.8 L1584.9,879.3 L1585.0,877.8 L1585.1,876.3 L1585.2,874.8 L1585.2,873.3 L1585.3,871.8 L1585.4,870.3 L1585.4,868.8 L1585.5,867.3 L1585.6,865.8 L1585.6,864.3 L1585.7,862.8 L1585.7,861.3 L1585.8,859.8 L1585.9,858.3 L1585.9,856.8 L1586.0,855.3 L1586.0,853.8 L1586.1,852.3 L1586.2,850.8 L1586.2,849.3 L1586.3,847.8 L1586.4,846.3 L1586.4,844.8 L1586.5,843.3 L1586.6,841.8 L1586.6,840.3 L1586.7,838.8 L1586.8,837.3 L1586.8,835.8 L1586.9,834.3 L1587.0,832.8 L1587.0,831.3 L1587.1,829.8 L1587.2,828.3 L1587.3,826.8 L1587.3,825.3 L1587.4,823.8 L1587.5,822.3 L1587.6,820.8 L1587.6,819.3 L1587.7,817.8 L1587.8,816.3 L1587.9,814.8 L1588.0,813.3 L1588.1,811.8 L1588.2,810.3 L1588.3,808.8 L1588.4,807.3 L1588.5,805.8 L1588.6,804.3 L1588.7,802.8 L1588.8,801.3 L1588.9,799.9 L1589.1,798.4 L1589.2,796.9 L1589.3,795.4 L1589.4,793.9 L1589.6,792.4 L1589.7,790.9 L1589.8,789.4 L1589.9,787.9 L1590.1,786.4 L1590.2,784.9 L1590.3,783.4 L1590.5,781.9 L1590.6,780.4 L1590.7,778.9 L1590.9,777.4 L1591.0,775.9 L1591.1,774.4 L1591.3,772.9 L1591.4,771.4 L1591.6,770.0 L1591.7,768.5 L1591.9,767.0 L1592.0,765.5 L1592.1,764.0 L1592.3,762.5 L1592.4,761.0 L1592.6,759.5 L1592.7,758.0 L1592.8,756.5 L1593.0,755.0 L1593.1,753.5 L1593.2,752.0 L1593.3,750.5 L1593.5,749.0 L1593.6,747.5 L1593.7,746.0 L1593.8,744.5 L1593.9,743.0 L1594.0,741.5 L1594.1,740.0 L1594.2,738.5 L1594.3,737.1 L1594.4,735.6 L1594.5,734.1 L1594.6,732.6 L1594.7,731.1 L1594.8,729.6 L1594.9,728.1 L1595.0,726.6 L1595.2,725.1 L1595.3,723.6 L1595.4,722.1 L1595.5,720.6 L1595.6,719.1 L1595.8,717.6 L1595.9,716.1 L1596.0,714.6 L1596.2,713.1 L1596.3,711.6 L1596.5,710.1 L1596.6,708.6 L1596.8,707.1 L1596.9,705.6 L1597.1,704.2 L1597.3,702.7 L1597.4,701.2 L1597.6,699.7 L1597.7,698.2 L1597.9,696.7 L1598.1,695.2 L1598.3,693.7 L1598.4,692.2 L1598.6,690.7 L1598.8,689.2 L1599.0,687.8 L1599.1,686.3 L1599.3,684.8 L1599.5,683.3 L1599.7,681.8 L1599.9,680.3 L1600.1,678.8 L1600.3,677.3 L1600.5,675.8 L1600.7,674.4 L1600.9,672.9 L1601.1,671.4 L1601.3,669.9 L1601.6,668.4 L1601.8,666.9 L1602.0,665.4 L1602.3,664.0 L1602.5,662.5 L1602.8,661.0 L1603.0,659.5 L1603.3,658.1 L1603.6,656.6 L1603.9,655.1 L1604.2,653.6 L1604.5,652.2 L1604.8,650.7 L1605.1,649.2 L1605.4,647.8 L1605.7,646.3 L1606.0,644.8 L1606.3,643.3 L1606.6,641.9 L1606.8,640.3 L1607.0,638.7 L1607.2,637.1 L1607.4,635.4 L1607.6,633.8 L1607.9,632.2 L1608.1,630.6 L1608.3,629.2 L1608.6,627.7 L1609.0,626.4 L1609.4,625.2 L1609.9,624.0 L1610.7,623.2 L1612.1,622.7 L1613.6,622.1 L1614.9,621.3 L1616.2,620.4 L1617.2,618.9 L1618.0,617.8 L1618.9,616.8 L1619.8,615.0 L1620.9,614.2 L1622.2,613.8 L1623.7,613.2 L1625.3,612.9 L1626.8,613.0 L1628.1,613.0 L1629.4,614.1 L1630.4,615.8 L1631.0,617.1 L1631.5,618.6 L1631.9,620.1 L1632.5,621.3 L1632.9,622.9 L1633.1,624.8 L1633.3,626.3 L1633.8,627.4 L1634.5,628.4 L1635.5,629.5 L1636.5,630.8 L1637.6,631.8 L1638.7,632.8 L1640.0,633.6 L1641.4,633.9 L1642.9,632.9 L1644.1,631.4 L1644.5,630.2 L1645.0,628.2 L1645.7,625.3 L1646.3,623.5 L1646.7,623.5 L1647.4,622.8 L1648.7,621.7 L1650.6,622.1 L1652.5,622.3 L1653.8,621.8 L1655.2,621.3 L1656.8,620.8 L1658.2,620.9 L1659.1,621.5 L1660.1,622.4 L1661.1,623.6 L1661.9,625.1 L1662.7,626.7 L1663.3,628.2 L1663.7,629.7 L1664.2,631.1 L1664.6,632.4 L1665.0,633.8 L1665.4,635.3 L1665.8,636.8 L1666.1,638.4 L1666.4,639.9 L1666.7,641.3 L1667.0,642.7 L1667.3,644.2 L1667.6,645.6 L1667.9,647.1 L1668.1,648.6 L1668.4,650.1 L1668.7,651.6 L1668.9,653.0 L1669.2,654.5 L1669.4,656.0 L1669.6,657.5 L1669.8,659.0 L1670.1,660.5 L1670.3,661.9 L1670.5,663.4 L1670.7,664.9 L1670.8,666.4 L1671.0,667.9 L1671.2,669.4 L1671.4,670.9 L1671.5,672.4 L1671.7,673.9 L1671.8,675.3 L1672.0,676.8 L1672.1,678.3 L1672.3,679.8 L1672.4,681.3 L1672.6,682.8 L1672.7,684.3 L1672.9,685.8 L1673.0,687.3 L1673.2,688.8 L1673.4,690.3 L1673.5,691.8 L1673.7,693.3 L1673.8,694.8 L1673.9,696.3 L1674.1,697.9 L1674.2,699.5 L1674.3,701.0 L1674.4,702.6 L1674.6,704.1 L1674.7,705.6 L1674.9,707.1 L1675.0,708.6 L1675.2,710.0 L1675.5,711.4 L1675.7,712.8 L1676.0,714.1 L1676.6,715.4 L1677.5,716.6 L1678.6,717.7 L1679.7,718.8 L1680.8,720.0 L1681.7,721.2 L1682.4,722.5 L1682.9,723.8 L1683.4,725.2 L1683.8,726.7 L1684.2,728.1 L1684.6,729.6 L1685.0,731.1 L1685.4,732.6 L1685.7,734.1 L1686.0,735.5 L1686.4,737.0 L1686.7,738.4 L1687.0,739.9 L1687.3,741.4 L1687.5,742.9 L1687.8,744.3 L1688.1,745.8 L1688.3,747.3 L1688.6,748.8 L1688.9,750.3 L1689.2,751.7 L1689.4,753.2 L1689.7,754.7 L1690.0,756.2 L1690.2,757.6 L1690.5,759.1 L1690.7,760.6 L1690.9,762.1 L1691.1,763.6 L1691.4,765.1 L1691.5,766.5 L1691.7,768.0 L1691.9,769.5 L1692.1,771.0 L1692.2,772.5 L1692.4,774.0 L1692.5,775.5 L1692.6,777.0 L1692.8,778.5 L1692.9,780.0 L1693.0,781.5 L1693.2,783.0 L1693.3,784.5 L1693.5,786.0 L1693.6,787.5 L1693.7,788.9 L1693.9,790.5 L1694.0,792.2 L1694.2,794.1 L1694.3,796.1 L1694.5,798.1 L1694.6,800.0 L1694.8,801.8 L1694.9,803.5 L1695.1,804.9 L1695.3,806.0 L1695.4,806.7 L1695.6,807.0 L1695.8,806.8 L1695.9,806.2 L1696.1,805.1 L1696.3,803.8 L1696.5,802.2 L1696.7,800.4 L1696.8,798.5 L1697.0,796.5 L1697.2,794.5 L1697.4,792.6 L1697.6,790.8 L1697.7,789.3 L1697.9,787.8 L1698.0,786.3 L1698.2,784.8 L1698.3,783.3 L1698.5,781.8 L1698.6,780.3 L1698.8,778.8 L1698.9,777.3 L1699.1,775.8 L1699.2,774.3 L1699.4,772.8 L1699.5,771.3 L1699.7,769.8 L1699.8,768.4 L1700.0,766.9 L1700.2,765.4 L1700.4,763.8 L1700.5,762.3 L1700.6,760.7 L1700.8,759.2 L1701.0,757.6 L1701.1,756.1 L1701.4,754.6 L1701.6,753.2 L1701.9,751.8 L1702.2,750.4 L1702.8,749.1 L1703.8,747.6 L1704.9,747.1 L1705.8,747.8 L1706.7,749.3 L1707.4,751.0 L1707.9,752.5 L1708.1,753.9 L1708.3,755.3 L1708.5,756.7 L1708.6,758.2 L1708.8,759.7 L1708.9,761.3 L1709.0,762.8 L1709.1,764.3 L1709.2,765.9 L1709.3,767.4 L1709.4,768.9 L1709.6,770.4 L1709.7,771.9 L1709.9,773.4 L1710.0,774.9 L1710.2,776.4 L1710.3,777.9 L1710.5,779.4 L1710.7,780.9 L1710.8,782.4 L1711.0,783.9 L1711.2,785.3 L1711.4,786.8 L1711.5,788.3 L1711.7,789.8 L1712.0,791.5 L1712.2,793.4 L1712.4,795.4 L1712.7,797.3 L1712.9,798.9 L1713.2,800.2 L1713.4,801.0 L1713.7,801.1 L1714.0,800.6 L1714.2,799.8 L1714.5,798.5 L1714.8,797.0 L1715.1,795.3 L1715.4,793.4 L1715.6,791.4 L1715.9,789.4 L1716.1,787.6 L1716.3,785.8 L1716.5,784.3 L1716.6,782.8 L1716.8,781.3 L1716.9,779.8 L1717.0,778.3 L1717.1,776.8 L1717.2,775.3 L1717.3,773.8 L1717.5,772.3 L1717.6,770.8 L1717.7,769.3 L1717.8,767.8 L1717.9,766.3 L1718.0,764.8 L1718.1,763.3 L1718.2,761.8 L1718.3,760.3 L1718.4,758.8 L1718.5,757.3 L1718.6,755.8 L1718.8,754.3 L1718.9,752.9 L1719.0,751.4 L1719.1,749.9 L1719.2,748.4 L1719.3,746.9 L1719.4,745.4 L1719.5,743.9 L1719.7,742.4 L1719.8,740.9 L1719.9,739.4 L1720.0,737.9 L1720.1,736.4 L1720.2,734.9 L1720.3,733.4 L1720.4,731.9 L1720.4,730.4 L1720.5,728.9 L1720.6,727.4 L1720.7,725.9 L1720.8,724.4 L1720.9,722.9 L1720.9,721.4 L1721.0,719.9 L1721.1,718.4 L1721.2,716.9 L1721.3,715.4 L1721.4,713.9 L1721.4,712.4 L1721.5,710.9 L1721.6,709.4 L1721.7,707.9 L1721.8,706.4 L1721.9,704.9 L1722.0,703.4 L1722.1,701.9 L1722.1,700.4 L1722.2,698.9 L1722.3,697.4 L1722.4,695.9 L1722.5,694.4 L1722.6,692.9 L1722.7,691.4 L1722.8,689.9 L1722.8,688.4 L1722.9,686.9 L1723.0,685.4 L1723.1,684.0 L1723.2,682.5 L1723.3,681.0 L1723.4,679.5 L1723.5,678.0 L1723.6,676.5 L1723.7,675.0 L1723.8,673.5 L1723.9,672.0 L1724.0,670.5 L1724.1,669.0 L1724.2,667.5 L1724.3,666.0 L1724.4,664.5 L1724.5,663.0 L1724.6,661.5 L1724.7,660.0 L1724.8,658.5 L1724.9,657.0 L1725.0,655.5 L1725.1,654.0 L1725.2,652.5 L1725.3,651.0 L1725.4,649.5 L1725.5,648.0 L1725.6,646.5 L1725.7,645.0 L1725.8,643.5 L1725.9,642.0 L1726.0,640.5 L1726.1,639.0 L1726.3,637.5 L1726.4,636.0 L1726.5,634.5 L1726.6,633.0 L1726.7,631.5 L1726.8,630.1 L1726.9,628.6 L1727.1,627.1 L1727.2,625.6 L1727.3,624.1 L1727.4,622.6 L1727.5,621.1 L1727.6,619.6 L1727.8,618.1 L1727.9,616.6 L1728.0,615.1 L1728.2,613.6 L1728.3,612.1 L1728.4,610.6 L1728.6,609.1 L1728.7,607.6 L1728.9,606.1 L1729.0,604.6 L1729.2,603.1 L1729.4,601.7 L1729.5,600.2 L1729.7,598.7 L1729.9,597.2 L1730.1,595.7 L1730.2,594.2 L1730.4,592.7 L1730.6,591.2 L1730.8,589.7 L1731.0,588.2 L1731.2,586.8 L1731.4,585.3 L1731.6,583.8 L1731.8,582.3 L1732.1,580.8 L1732.3,579.3 L1732.5,577.8 L1732.7,576.4 L1732.9,574.9 L1733.1,573.4 L1733.4,571.9 L1733.6,570.4 L1733.8,568.9 L1734.1,567.4 L1734.3,566.0 L1734.6,564.5 L1734.9,563.0 L1735.1,561.5 L1735.4,560.1 L1735.7,558.6 L1736.0,557.1 L1736.4,555.6 L1736.7,554.1 L1737.0,552.5 L1737.4,551.0 L1737.8,549.6 L1738.3,548.2 L1738.8,546.9 L1739.4,545.6 L1740.2,544.3 L1741.3,542.9 L1742.5,541.9 L1743.8,541.4 L1745.3,541.4 L1747.0,541.4 L1748.3,541.4 L1749.2,541.7 L1749.9,542.7 L1750.5,544.2 L1751.1,546.0 L1751.5,547.8 L1752.0,549.4 L1752.4,551.0 L1752.7,552.9 L1752.9,554.8 L1753.1,556.7 L1753.4,558.3 L1753.8,559.4 L1754.3,560.0 L1755.3,559.8 L1757.0,559.3 L1758.2,558.5 L1758.8,557.2 L1759.4,555.4 L1759.8,553.5 L1760.3,551.9 L1760.9,550.9 L1761.9,550.8 L1763.5,551.3 L1764.7,552.2 L1765.7,553.5 L1766.7,554.9 L1767.7,555.9 L1768.9,556.0 L1770.3,556.0 L1771.9,555.9 L1773.4,555.9 L1775.0,555.9 L1776.6,555.8 L1778.1,555.7 L1779.6,555.6 L1781.1,555.4 L1782.6,555.3 L1784.0,555.3 L1785.3,555.8 L1786.6,556.6 L1787.8,557.6 L1789.0,558.7 L1790.2,559.8 L1791.3,560.7 L1792.4,561.7 L1793.5,562.8 L1794.5,563.9 L1795.5,565.0 L1796.6,566.1 L1797.7,567.1 L1798.8,568.1 L1800.0,569.0 L1801.2,570.0 L1802.4,570.9 L1803.5,571.9 L1804.6,572.9 L1805.6,574.0 L1806.5,575.1 L1807.5,576.3 L1808.4,577.5 L1809.3,578.8 L1810.1,580.0 L1810.9,581.3 L1811.7,582.6 L1812.4,583.9 L1813.2,585.2 L1813.9,586.5 L1814.6,587.8 L1815.2,589.2 L1815.9,590.6 L1816.5,591.9 L1817.1,593.3 L1817.7,594.7 L1818.3,596.1 L1818.8,597.5 L1819.4,598.9 L1819.9,600.3 L1820.4,601.7 L1820.8,603.1 L1821.2,604.6 L1821.6,606.0 L1821.9,607.5 L1822.2,608.9 L1822.5,610.4 L1822.8,611.9 L1823.1,613.4 L1823.4,614.8 L1823.7,616.3 L1824.0,617.8 L1824.3,619.3 L1824.6,620.8 L1824.8,622.3 L1825.1,623.9 L1825.3,625.4 L1825.6,627.0 L1825.9,628.5 L1826.2,630.0 L1826.6,631.3 L1827.0,632.6 L1827.5,633.8 L1828.5,634.9 L1829.7,635.8 L1831.0,636.8 L1832.2,637.8 L1833.1,638.9 L1834.0,640.1 L1834.8,641.4 L1835.6,642.7 L1836.4,644.0 L1837.3,645.2 L1838.2,646.4 L1839.2,647.5 L1840.2,648.7 L1841.1,649.9 L1841.8,651.1 L1842.5,652.5 L1843.0,653.8 L1843.5,655.2 L1844.0,656.7 L1844.4,658.1 L1844.9,659.6 L1845.4,661.0 L1845.9,662.5 L1846.5,663.8 L1847.1,665.2 L1847.7,666.6 L1848.3,668.0 L1849.0,669.4 L1849.7,670.7 L1850.4,672.0 L1851.2,673.2 L1852.2,674.3 L1853.2,675.4 L1854.3,676.5 L1855.4,677.5 L1856.6,678.5 L1857.8,679.7 L1859.0,680.7 L1860.3,681.1 L1861.7,681.0 L1863.3,680.6 L1864.7,680.1 L1865.9,679.5 L1867.1,678.5 L1868.2,677.4 L1869.2,676.1 L1869.9,674.9 L1870.6,673.6 L1871.3,672.3 L1871.8,670.9 L1872.4,669.5 L1872.9,668.0 L1873.4,666.6 L1873.9,665.1 L1874.4,663.7 L1874.9,662.3 L1875.5,660.9 L1876.0,659.5 L1876.6,658.1 L1877.1,656.7 L1877.6,655.3 L1878.1,653.9 L1878.6,652.5 L1879.1,651.0 L1879.6,649.6 L1880.0,648.2 L1880.4,646.7 L1880.8,645.3 L1881.1,643.8 L1881.5,642.4 L1881.8,640.9 L1882.1,639.4 L1882.4,638.0 L1882.7,636.5 L1883.0,635.0 L1883.3,633.5 L1883.5,632.1 L1883.8,630.6 L1884.0,629.1 L1884.2,627.6 L1884.4,626.1 L1884.6,624.6 L1884.8,623.1 L1884.9,621.7 L1885.1,620.2 L1885.3,618.7 L1885.4,617.2 L1885.6,615.7 L1885.8,614.2 L1886.0,612.7 L1886.1,611.2 L1886.3,609.7 L1886.5,608.2 L1886.7,606.7 L1886.9,605.2 L1887.0,603.8 L1887.2,602.3 L1887.4,600.8 L1887.6,599.3 L1887.8,597.8 L1888.0,596.3 L1888.2,594.8 L1888.4,593.3 L1888.6,591.8 L1888.7,590.3 L1888.9,588.7 L1889.1,587.2 L1889.4,585.7 L1889.6,584.2 L1890.0,582.9 L1890.4,581.6 L1891.2,580.4 L1892.3,579.3 L1893.5,578.2 L1894.6,577.1 L1895.8,576.1 L1897.0,575.1 L1897.7,573.9 L1898.1,572.7 L1898.5,571.3 L1898.7,569.8 L1898.9,568.3 L1899.1,566.8 L1899.3,565.2 L1899.6,563.6 L1899.8,562.1 L1900.1,560.6 L1900.5,559.2 L1900.8,557.7 L1901.2,556.2 L1901.6,554.7 L1902.0,553.2 L1902.5,551.8 L1903.0,550.5 L1903.7,549.2 L1904.5,547.7 L1905.5,546.3 L1906.6,545.4 L1907.7,545.5 L1909.1,546.2 L1910.4,547.3 L1911.3,548.5 L1911.8,549.7 L1912.3,551.0 L1912.7,552.5 L1913.0,554.0 L1913.3,555.6 L1913.6,557.2 L1914.0,558.7 L1914.3,560.2 L1914.6,561.7 L1914.9,563.2 L1915.2,564.7 L1915.6,566.2 L1916.1,567.5 L1916.7,568.8 L1917.7,570.2 L1919.0,571.3 L1920.1,571.6 L1921.2,570.9 L1922.3,569.6 L1923.2,568.1 L1923.8,566.7 L1924.2,565.4 L1924.6,564.0 L1924.9,562.6 L1925.1,561.1 L1925.4,559.6 L1925.6,558.1 L1925.8,556.6 L1926.0,555.0 L1926.2,553.5 L1926.4,551.9 L1926.6,550.4 L1926.9,548.9 L1927.2,547.5 L1927.5,546.0 L1927.7,544.5 L1928.0,543.0 L1928.3,541.6 L1928.6,540.1 L1928.9,538.6 L1929.2,537.1 L1929.5,535.7 L1929.7,534.2 L1930.0,532.7 L1930.2,531.2 L1930.5,529.8 L1930.7,528.3 L1930.9,526.8 L1931.2,525.3 L1931.4,523.8 L1931.6,522.3 L1931.8,520.8 L1932.0,519.4 L1932.2,517.9 L1932.4,516.4 L1932.7,514.9 L1932.9,513.4 L1933.1,511.9 L1933.4,510.4 L1933.6,508.8 L1933.8,507.2 L1934.1,505.7 L1934.4,504.3 L1934.8,503.1 L1935.6,502.1 L1937.0,501.2 L1938.4,500.4 L1939.6,499.4 L1940.2,498.2 L1940.8,496.8 L1941.2,495.2 L1941.6,493.7 L1942.1,492.2 L1942.6,490.8 L1943.4,489.8 L1944.4,488.7 L1945.8,487.7 L1947.2,487.0 L1948.6,486.6 L1950.1,486.6 L1951.6,486.8 L1953.1,487.1 L1954.6,487.4 L1956.0,487.8 L1957.3,488.4 L1958.5,489.2 L1959.7,490.2 L1960.9,491.4 L1961.9,492.5 L1962.9,493.6 L1963.8,494.8 L1964.7,495.9 L1965.5,497.2 L1966.3,498.5 L1967.1,499.8 L1967.8,501.1 L1968.5,502.5 L1969.2,503.9 L1969.9,505.2 L1970.6,506.5 L1971.2,507.9 L1971.8,509.3 L1972.4,510.6 L1973.0,512.0 L1973.6,513.4 L1974.1,514.8 L1974.6,516.2 L1975.2,517.6 L1975.7,519.1 L1976.1,520.5 L1976.6,521.9 L1977.1,523.3 L1977.5,524.8 L1977.9,526.2 L1978.4,527.6 L1978.8,529.1 L1979.2,530.5 L1979.6,532.0 L1979.9,533.5 L1980.3,534.9 L1980.6,536.4 L1980.9,537.8 L1981.2,539.3 L1981.4,540.8 L1981.7,542.3 L1981.9,543.8 L1982.2,545.3 L1982.4,546.8 L1982.6,548.2 L1982.9,549.7 L1983.2,551.2 L1983.4,552.7 L1983.7,554.1 L1984.1,555.6 L1984.4,557.0 L1984.9,558.5 L1985.4,559.9 L1985.9,561.3 L1986.5,562.7 L1987.1,564.1 L1987.6,565.5 L1988.1,566.9 L1988.6,568.3 L1988.9,569.7 L1989.3,571.2 L1989.7,572.7 L1990.0,574.1 L1990.3,575.6 L1990.6,577.1 L1990.9,578.5 L1991.2,580.0 L1991.5,581.5 L1991.8,583.0 L1992.1,584.4 L1992.4,585.9 L1992.8,587.4 L1993.1,588.8 L1993.5,590.3 L1993.9,591.7 L1994.3,593.2 L1994.7,594.6 L1995.1,596.0 L1995.6,597.5 L1996.0,598.9 L1996.4,600.4 L1996.8,601.8 L1997.2,603.3 L1997.6,604.7 L1998.0,606.2 L1998.4,607.6 L1998.7,609.1 L1999.1,610.5 L1999.4,612.0 L1999.8,613.4 L2000.1,614.9 L2000.5,616.4 L2000.8,617.8 L2001.1,619.3 L2001.4,620.8 L2001.7,622.3 L2001.9,623.7 L2002.2,625.2 L2002.4,626.8 L2002.6,628.3 L2002.7,629.9 L2002.9,631.5 L2003.0,633.2 L2003.1,634.8 L2003.3,636.3 L2003.4,637.9 L2003.6,639.4 L2003.8,640.8 L2004.1,642.2 L2004.3,643.5 L2004.7,644.7 L2005.3,645.7 L2006.4,646.7 L2007.9,647.5 L2009.3,648.4 L2010.5,649.3 L2011.1,650.5 L2011.7,651.7 L2012.1,653.0 L2012.6,654.4 L2013.0,655.9 L2013.3,657.4 L2013.7,659.0 L2014.0,660.5 L2014.3,662.1 L2014.7,663.6 L2015.0,665.1 L2015.5,666.6 L2015.9,668.0 L2016.3,669.4 L2016.8,670.9 L2017.2,672.3 L2017.7,673.7 L2018.1,675.2 L2018.6,676.6 L2019.1,678.0 L2019.5,679.4 L2020.0,680.9 L2020.4,682.3 L2020.8,683.7 L2021.3,685.2 L2021.7,686.6 L2022.1,688.1 L2022.6,689.5 L2023.0,690.9 L2023.4,692.4 L2023.9,693.8 L2024.3,695.3 L2024.7,696.7 L2025.1,698.1 L2025.5,699.6 L2025.8,701.0 L2026.2,702.5 L2026.5,704.0 L2026.9,705.4 L2027.2,706.9 L2027.5,708.3 L2027.9,709.8 L2028.2,711.3 L2028.5,712.8 L2028.8,714.2 L2029.1,715.7 L2029.4,717.2 L2029.8,718.6 L2030.1,720.1 L2030.4,721.5 L2030.8,723.0 L2031.1,724.5 L2031.5,725.9 L2031.8,727.4 L2032.2,728.8 L2032.5,730.3 L2032.9,731.8 L2033.3,733.2 L2033.6,734.7 L2034.0,736.1 L2034.3,737.6 L2034.7,739.0 L2035.1,740.5 L2035.4,742.0 L2035.8,743.4 L2036.2,744.9 L2036.6,746.3 L2036.9,747.8 L2037.3,749.2 L2037.7,750.7 L2038.1,752.1 L2038.4,753.6 L2038.8,755.0 L2039.2,756.5 L2039.5,758.0 L2039.8,759.4 L2040.2,760.9 L2040.5,762.3 L2040.9,763.8 L2041.2,765.3 L2041.5,766.7 L2041.8,768.2 L2042.1,769.7 L2042.4,771.1 L2042.7,772.6 L2043.0,774.1 L2043.3,775.6 L2043.6,777.0 L2043.8,778.6 L2044.0,780.1 L2044.2,781.7 L2044.4,783.2 L2044.6,784.7 L2044.8,786.2 L2045.1,787.6 L2045.4,789.0 L2045.9,790.2 L2046.7,791.4 L2047.7,792.6 L2048.8,793.7 L2049.9,794.8 L2051.0,795.9 L2051.8,797.1 L2052.7,798.4 L2053.4,799.7 L2054.2,801.0 L2054.9,802.3 L2055.7,803.6 L2056.4,804.9 L2057.2,806.2 L2058.0,807.5 L2058.8,808.7 L2059.6,810.0 L2060.4,811.3 L2061.2,812.6 L2061.9,813.9 L2062.6,815.2 L2063.3,816.5 L2063.9,817.9 L2064.5,819.3 L2065.1,820.6 L2065.7,822.0 L2066.2,823.4 L2066.8,824.8 L2067.3,826.2 L2067.9,827.6 L2068.4,829.0 L2069.0,830.4 L2069.5,831.8 L2070.0,833.2 L2070.6,834.6 L2071.1,836.0 L2071.6,837.4 L2072.1,838.9 L2072.6,840.3 L2073.1,841.7 L2073.6,843.1 L2074.0,844.5 L2074.5,846.0 L2074.9,847.4 L2075.4,848.8 L2075.8,850.3 L2076.3,851.7 L2076.7,853.1 L2077.1,854.6 L2077.6,856.0 L2078.0,857.4 L2078.5,858.9 L2079.0,860.3 L2079.4,861.7 L2079.9,863.2 L2080.4,864.6 L2080.8,866.0 L2081.2,867.5 L2081.6,868.9 L2082.0,870.3 L2082.4,871.8 L2082.8,873.2 L2083.2,874.7 L2083.5,876.2 L2083.9,877.6 L2084.2,879.1 L2084.6,880.5 L2084.9,882.0 L2085.3,883.5 L2085.7,884.9 L2086.0,886.4 L2086.4,887.8 L2086.8,889.3 L2087.1,890.7 L2087.5,892.2 L2087.9,893.6 L2088.2,895.1 L2088.6,896.6 L2089.0,898.0 L2089.3,899.5 L2089.7,900.9 L2090.1,902.4 L2090.5,903.8 L2090.8,905.3 L2091.2,906.7 L2091.6,908.2 L2091.9,909.6 L2092.2,911.1 L2092.5,912.6 L2092.8,914.1 L2093.1,915.5 L2093.3,917.0 L2093.6,918.5 L2093.9,920.0 L2094.1,921.4 L2094.4,922.9 L2094.7,924.4 L2095.0,925.9 L2095.3,927.3 L2095.6,928.8 L2095.9,930.3 L2096.3,931.7 L2096.6,933.2 L2096.9,934.7 L2097.3,936.1 L2097.6,937.6 L2097.9,939.0 L2098.3,940.5 L2098.6,942.0 L2098.8,943.5 L2099.1,945.0 L2099.4,946.4 L2099.7,947.9 L2100.0,949.4 L2100.3,950.9 L2100.7,952.3 L2101.2,953.7 L2101.8,955.1 L2102.5,956.4 L2103.2,957.7 L2104.0,959.0 L2104.9,960.2 L2105.9,961.4 L2106.9,962.5 L2107.8,963.7 L2108.6,965.0 L2109.2,966.3 L2109.7,967.7 L2110.2,969.1 L2110.6,970.5 L2111.0,972.0 L2111.5,973.5 L2111.9,974.9 L2112.4,976.3 L2113.0,977.7 L2113.6,979.1 L2114.2,980.4 L2114.9,981.8 L2115.5,983.2 L2116.0,984.6 L2116.6,986.0 L2117.0,987.4 L2117.5,988.8 L2117.9,990.3 L2118.3,991.7 L2118.6,993.2 L2119.0,994.6 L2119.4,996.1 L2119.8,997.5 L2120.3,999.0 L2120.7,1000.4 L2121.2,1001.8 L2121.7,1003.2 L2122.1,1004.7 L2122.6,1006.1 L2123.1,1007.5 L2123.6,1008.9 L2124.2,1010.3 L2124.7,1011.7 L2125.3,1013.1 L2125.8,1014.5 L2126.4,1015.9 L2127.0,1017.3 L2127.5,1018.7 L2128.0,1020.1 L2128.6,1021.5 L2129.1,1022.9 L2129.7,1024.3 L2130.3,1025.7 L2131.0,1027.0 L2131.8,1028.2 L2132.7,1029.4 L2133.6,1030.6 L2134.6,1031.8 L2135.5,1033.0 L2136.4,1034.2 L2137.2,1035.5 L2138.0,1036.9 L2138.9,1038.1 L2139.9,1039.1 L2141.0,1040.0 L2142.4,1040.8 L2143.8,1041.4 L2145.2,1041.5 L2146.7,1041.0 L2148.1,1040.4 L2149.4,1039.6 L2150.7,1038.8 L2151.8,1037.9 L2152.9,1036.8 L2153.9,1035.6 L2154.8,1034.4 L2155.7,1033.2 L2156.5,1032.0 L2157.2,1030.6 L2157.9,1029.3 L2158.6,1027.9 L2159.3,1026.6 L2159.9,1025.2 L2160.6,1023.9 L2161.2,1022.5 L2161.9,1021.2 L2162.6,1019.9 L2163.3,1018.5 L2164.1,1017.2 L2164.9,1015.9 L2165.8,1014.7 L2166.8,1013.7 L2168.1,1012.7 L2169.5,1011.9 L2170.8,1011.5 L2172.0,1011.9 L2173.1,1013.0 L2174.3,1014.2 L2175.4,1015.3 L2176.6,1016.5 L2177.8,1017.6 L2179.0,1018.3 L2180.3,1018.2 L2181.7,1017.5 L2183.1,1016.8 L2184.5,1016.7 L2186.0,1017.0 L2187.5,1017.4 L2189.0,1017.8 L2190.5,1018.2 L2191.9,1018.7 L2193.1,1019.3 L2194.3,1020.2 L2195.3,1021.4 L2196.3,1022.6 L2197.1,1023.9 L2197.8,1025.5 L2198.4,1027.2 L2199.0,1028.6 L2199.9,1028.9 L2201.2,1028.2 L2202.6,1027.4 L2204.1,1026.9 L2205.5,1026.5 L2207.0,1026.2 L2208.5,1026.0" fill="none" stroke="#000" stroke-width="7" stroke-linejoin="round"/>
<path id="spectrum-after" d="M179.0,83.0 L179.9,84.2 L180.8,85.4 L181.8,86.6 L182.7,87.7 L183.6,88.9 L184.5,90.1 L185.4,91.3 L186.3,92.5 L187.2,93.7 L188.1,94.9 L189.0,96.1 L189.9,97.3 L190.8,98.5 L191.7,99.7 L192.6,100.9 L193.5,102.1 L194.4,103.3 L195.3,104.6 L196.2,105.8 L197.1,107.0 L198.0,108.2 L198.9,109.4 L199.7,110.6 L200.6,111.8 L201.4,113.1 L202.3,114.3 L203.1,115.6 L203.9,116.8 L204.7,118.1 L205.4,119.4 L206.1,120.7 L206.8,122.1 L207.6,123.4 L208.3,124.7 L209.0,126.0 L209.7,127.4 L210.4,128.7 L211.2,130.0 L212.0,131.2 L212.8,132.5 L213.6,133.7 L214.5,135.0 L215.3,136.2 L216.1,137.4 L217.1,138.7 L218.2,140.0 L219.3,141.1 L220.4,141.7 L221.8,143.2 L222.9,143.4 L223.6,141.5 L224.8,142.1 L226.6,143.3 L228.3,142.4 L229.4,142.4 L230.7,142.0 L232.7,138.7 L233.6,135.7 L234.3,135.4 L236.1,136.2 L237.8,136.4 L238.5,137.0 L239.5,138.9 L240.7,140.1 L241.4,139.0 L242.5,137.6 L244.1,139.2 L245.9,143.3 L247.5,145.8 L248.4,146.8 L249.0,146.1 L250.3,145.8 L252.4,147.6 L253.6,148.0 L254.3,147.4 L255.2,150.0 L255.6,153.8 L256.3,154.8 L257.7,154.4 L258.8,154.2 L260.2,155.0 L261.4,157.1 L261.8,157.5 L262.5,158.1 L262.9,159.8 L262.8,161.8 L263.2,164.9 L264.1,166.7 L265.0,166.6 L266.1,166.2 L267.4,164.5 L268.6,163.3 L269.3,163.7 L270.2,165.6 L271.3,168.0 L271.6,169.2 L272.0,170.0 L272.9,170.2 L274.8,169.5 L276.7,169.3 L278.3,170.9 L279.2,173.0 L279.8,174.4 L280.7,176.5 L281.5,178.7 L281.8,178.3 L282.0,179.3 L282.7,181.7 L283.5,182.3 L284.3,183.1 L285.5,183.8 L286.9,183.5 L288.1,184.0 L288.8,186.3 L289.7,187.3 L291.3,188.5 L292.2,192.1 L292.7,193.6 L293.2,193.0 L293.8,193.5 L294.4,195.2 L294.8,197.5 L295.5,199.8 L296.6,200.7 L297.9,200.0 L299.4,200.3 L300.0,200.9 L300.5,201.4 L301.7,203.3 L303.0,206.0 L304.0,208.9 L304.7,210.1 L304.8,209.9 L304.9,211.0 L306.0,213.6 L307.5,216.2 L308.1,216.8 L308.0,216.6 L309.0,216.6 L310.0,217.9 L310.5,220.2 L311.4,221.9 L311.9,222.6 L312.3,223.4 L313.4,225.3 L314.8,227.7 L315.4,230.1 L315.6,231.5 L315.7,231.7 L316.0,231.9 L316.9,233.1 L317.8,234.2 L318.2,235.6 L318.8,237.6 L320.2,239.3 L321.3,241.5 L321.6,243.9 L321.4,245.0 L321.4,244.6 L321.9,244.3 L322.7,246.0 L323.5,247.4 L324.2,248.6 L324.7,251.8 L324.9,253.8 L324.8,255.4 L324.9,258.2 L325.3,259.7 L325.7,259.6 L326.6,260.0 L327.2,262.3 L327.2,263.9 L327.7,264.9 L328.6,267.7 L329.4,268.0 L330.0,267.3 L330.3,268.9 L330.6,271.4 L331.9,274.8 L332.9,276.0 L333.1,274.9 L333.3,276.0 L333.3,278.6 L333.9,281.3 L335.2,284.3 L336.2,285.1 L336.7,285.3 L336.8,285.5 L336.8,285.6 L337.2,288.6 L338.0,291.6 L338.9,291.7 L339.6,292.6 L339.9,296.2 L339.8,299.1 L340.0,298.3 L340.4,298.6 L340.9,300.3 L341.7,300.7 L342.5,302.3 L342.9,304.9 L343.3,306.4 L343.1,308.0 L342.6,310.4 L342.9,310.6 L344.2,308.7 L345.1,309.6 L345.0,314.0 L344.8,317.9 L345.5,318.8 L346.2,319.2 L346.9,320.9 L347.4,323.2 L347.5,324.7 L347.3,325.0 L347.4,326.2 L348.0,329.7 L348.7,331.1 L349.2,331.5 L349.3,334.9 L349.6,335.9 L350.4,333.9 L351.0,334.4 L350.9,338.1 L350.8,340.4 L351.6,339.5 L352.5,340.6 L352.1,343.9 L352.3,345.2 L352.9,347.8 L352.9,353.1 L353.4,355.0 L354.4,353.6 L354.4,353.3 L354.0,353.4 L354.5,353.3 L354.7,355.4 L354.8,357.0 L355.6,357.0 L355.8,359.1 L355.8,362.8 L356.2,365.2 L356.9,366.9 L357.6,368.2 L358.1,367.7 L358.7,367.3 L358.3,368.7 L358.1,372.4 L358.4,375.6 L358.9,377.1 L358.7,377.9 L358.5,378.1 L359.6,379.2 L360.6,380.5 L360.5,383.0 L360.5,387.0 L361.3,388.2 L361.8,387.5 L362.1,388.6 L362.1,390.1 L361.7,391.5 L361.8,393.3 L362.5,394.5 L363.0,395.8 L363.0,397.4 L363.2,398.8 L363.7,399.8 L364.0,401.1 L364.3,403.1 L364.4,405.1 L364.5,407.0 L364.7,409.2 L364.9,411.4 L364.9,412.6 L364.8,413.6 L365.0,414.9 L365.2,416.5 L365.4,418.5 L365.7,419.6 L365.9,420.5 L365.9,422.5 L366.0,423.7 L366.1,424.2 L366.0,425.8 L366.1,427.6 L366.2,428.7 L366.5,430.4 L366.8,432.3 L367.1,434.3 L367.2,436.4 L367.2,438.1 L367.3,439.2 L367.4,440.5 L367.6,441.9 L367.7,443.2 L368.0,444.3 L368.2,445.6 L368.4,447.4 L368.6,449.3 L368.8,451.0 L369.0,452.3 L369.2,453.7 L369.4,455.1 L369.6,456.7 L369.8,458.1 L370.0,459.6 L370.3,461.1 L370.5,462.5 L370.7,464.0 L370.9,465.5 L371.1,467.0 L371.3,468.5 L371.5,470.0 L371.7,471.5 L371.9,472.9 L372.1,474.4 L372.3,475.9 L372.5,477.4 L372.7,478.9 L372.9,480.4 L373.1,481.9 L373.3,483.4 L373.5,484.8 L373.6,486.3 L373.8,487.8 L374.0,489.3 L374.2,490.8 L374.4,492.3 L374.6,493.8 L374.7,495.3 L374.9,496.8 L375.1,498.3 L375.2,499.7 L375.4,501.2 L375.5,502.7 L375.7,504.2 L375.8,505.7 L376.0,507.2 L376.1,508.7 L376.3,510.2 L376.4,511.7 L376.6,513.2 L376.7,514.7 L376.8,516.2 L377.0,517.7 L377.1,519.2 L377.3,520.7 L377.4,522.1 L377.6,523.6 L377.7,525.1 L377.9,526.6 L378.0,528.1 L378.2,529.6 L378.3,531.1 L378.5,532.6 L378.6,534.1 L378.8,535.6 L378.9,537.1 L379.1,538.6 L379.2,540.1 L379.4,541.6 L379.5,543.0 L379.7,544.5 L379.8,546.0 L380.0,547.5 L380.1,549.0 L380.2,550.5 L380.4,552.0 L380.5,553.5 L380.7,555.0 L380.8,556.5 L380.9,558.0 L381.1,559.5 L381.2,561.0 L381.4,562.5 L381.5,564.0 L381.6,565.5 L381.8,567.0 L381.9,568.4 L382.0,569.9 L382.2,571.4 L382.3,572.9 L382.5,574.4 L382.6,575.9 L382.7,577.4 L382.9,578.9 L383.0,580.4 L383.2,581.9 L383.3,583.4 L383.4,584.9 L383.6,586.4 L383.7,587.9 L383.9,589.4 L384.0,590.9 L384.1,592.3 L384.3,593.8 L384.4,595.3 L384.6,596.8 L384.7,598.3 L384.9,599.8 L385.0,601.3 L385.2,602.8 L385.4,604.3 L385.5,605.8 L385.7,607.3 L385.8,608.8 L386.0,610.3 L386.2,611.8 L386.3,613.2 L386.5,614.7 L386.7,616.2 L386.8,617.7 L387.0,619.2 L387.2,620.7 L387.3,622.2 L387.5,623.7 L387.7,625.2 L387.8,626.7 L388.0,628.2 L388.2,629.6 L388.4,631.1 L388.5,632.6 L388.7,634.1 L388.9,635.6 L389.0,637.1 L389.2,638.6 L389.4,640.1 L389.6,641.6 L389.7,643.1 L389.9,644.6 L390.1,646.0 L390.2,647.5 L390.4,649.0 L390.6,650.5 L390.7,652.0 L390.9,653.5 L391.1,655.0 L391.2,656.5 L391.4,658.0 L391.5,659.5 L391.7,661.0 L391.8,662.5 L392.0,663.9 L392.1,665.4 L392.2,666.9 L392.4,668.4 L392.5,669.9 L392.6,671.4 L392.7,672.9 L392.9,674.4 L393.0,675.9 L393.1,677.4 L393.2,678.9 L393.4,680.4 L393.5,681.9 L393.6,683.4 L393.7,684.9 L393.9,686.4 L394.0,687.9 L394.1,689.4 L394.2,690.9 L394.3,692.4 L394.5,693.9 L394.6,695.4 L394.7,696.8 L394.8,698.3 L394.9,699.8 L395.1,701.3 L395.2,702.8 L395.3,704.3 L395.4,705.8 L395.5,707.3 L395.7,708.8 L395.8,710.3 L395.9,711.8 L396.1,713.3 L396.2,714.8 L396.4,716.3 L396.5,717.8 L396.7,719.3 L396.8,720.8 L397.0,722.2 L397.2,723.7 L397.3,725.2 L397.5,726.7 L397.7,728.2 L397.9,729.7 L398.1,731.2 L398.3,732.7 L398.5,734.2 L398.7,735.6 L398.9,737.1 L399.1,738.6 L399.3,740.1 L399.5,741.6 L399.7,743.1 L399.9,744.6 L400.1,746.0 L400.4,747.5 L400.6,749.0 L400.8,750.5 L401.0,752.0 L401.2,753.5 L401.5,755.0 L401.7,756.4 L401.9,757.9 L402.1,759.4 L402.4,760.9 L402.6,762.4 L402.8,763.9 L403.1,765.3 L403.3,766.8 L403.5,768.3 L403.8,769.8 L404.0,771.3 L404.3,772.7 L404.5,774.2 L404.8,775.7 L405.0,777.2 L405.3,778.7 L405.5,780.1 L405.8,781.6 L406.0,783.1 L406.3,784.6 L406.6,786.1 L406.8,787.5 L407.1,789.0 L407.4,790.5 L407.7,792.0 L407.9,793.4 L408.2,794.9 L408.5,796.4 L408.8,797.8 L409.1,799.3 L409.4,800.8 L409.7,802.2 L410.1,803.7 L410.4,805.2 L410.7,806.6 L411.0,808.1 L411.3,809.6 L411.6,811.1 L411.9,812.5 L412.3,814.0 L412.6,815.5 L412.9,816.9 L413.2,818.4 L413.5,819.9 L413.8,821.3 L414.1,822.8 L414.5,824.3 L414.8,825.7 L415.1,827.2 L415.4,828.7 L415.7,830.1 L416.1,831.6 L416.4,833.0 L416.8,834.5 L417.1,836.0 L417.5,837.4 L417.9,838.9 L418.3,840.3 L418.7,841.8 L419.0,843.2 L419.4,844.7 L419.9,846.1 L420.3,847.5 L420.7,849.0 L421.1,850.4 L421.5,851.9 L422.0,853.3 L422.4,854.7 L422.9,856.2 L423.3,857.6 L423.8,859.0 L424.2,860.5 L424.7,861.9 L425.1,863.3 L425.6,864.8 L426.1,866.2 L426.5,867.6 L427.0,869.1 L427.5,870.5 L428.0,871.9 L428.5,873.4 L429.0,874.8 L429.5,876.2 L430.1,877.6 L430.6,879.0 L431.2,880.3 L431.8,881.7 L432.4,883.1 L433.0,884.4 L433.7,885.7 L434.4,887.0 L435.1,888.3 L435.8,889.6 L436.6,890.9 L437.4,892.2 L438.2,893.5 L439.1,894.8 L439.9,896.0 L440.8,897.3 L441.6,898.5 L442.5,899.7 L443.4,901.0 L444.3,902.2 L445.1,903.4 L446.0,904.6 L447.0,905.7 L447.9,906.9 L448.9,908.1 L449.8,909.2 L450.8,910.4 L451.8,911.5 L452.8,912.6 L453.8,913.8 L454.8,914.9 L455.8,916.0 L456.8,917.1 L457.8,918.2 L458.9,919.3 L459.9,920.4 L460.9,921.6 L461.9,922.7 L462.9,923.9 L463.9,925.0 L464.9,926.2 L466.0,927.3 L467.0,928.3 L468.1,929.4 L469.2,930.4 L470.4,931.3 L471.5,932.2 L472.7,933.0 L473.9,933.8 L475.2,934.5 L476.5,935.3 L477.9,936.0 L479.3,936.7 L480.7,937.4 L482.1,937.9 L483.5,938.5 L484.9,938.9 L486.3,939.3 L487.8,939.6 L489.2,939.9 L490.7,940.2 L492.2,940.5 L493.7,940.8 L495.2,941.0 L496.7,941.2 L498.2,941.3 L499.7,941.4 L501.2,941.4 L502.7,941.3 L504.2,941.2 L505.7,941.1 L507.2,940.9 L508.7,940.7 L510.2,940.5 L511.7,940.3 L513.2,940.0 L514.6,939.8 L516.0,939.4 L517.5,939.0 L518.9,938.6 L520.4,938.0 L521.8,937.4 L523.2,936.8 L524.5,936.1 L525.9,935.4 L527.2,934.7 L528.4,933.9 L529.6,933.2 L530.9,932.3 L532.0,931.4 L533.2,930.5 L534.3,929.5 L535.5,928.4 L536.6,927.4 L537.6,926.3 L538.7,925.2 L539.8,924.0 L540.8,922.9 L541.8,921.8 L542.7,920.7 L543.7,919.6 L544.7,918.4 L545.6,917.2 L546.5,916.1 L547.5,914.8 L548.4,913.6 L549.2,912.4 L550.1,911.1 L550.9,909.9 L551.7,908.6 L552.5,907.3 L553.3,906.0 L554.0,904.8 L554.7,903.5 L555.4,902.1 L556.1,900.8 L556.7,899.5 L557.4,898.1 L558.0,896.7 L558.6,895.3 L559.2,894.0 L559.7,892.6 L560.3,891.2 L560.9,889.8 L561.5,888.4 L562.0,887.0 L562.6,885.6 L563.2,884.2 L563.8,882.8 L564.3,881.4 L564.9,880.0 L565.5,878.6 L566.0,877.3 L566.6,875.9 L567.1,874.5 L567.7,873.1 L568.2,871.7 L568.8,870.3 L569.3,868.9 L569.9,867.5 L570.4,866.1 L571.0,864.7 L571.5,863.3 L572.1,861.9 L572.6,860.5 L573.2,859.1 L573.7,857.7 L574.3,856.3 L574.8,854.9 L575.4,853.5 L575.9,852.1 L576.5,850.7 L577.0,849.3 L577.6,847.9 L578.1,846.5 L578.7,845.1 L579.3,843.8 L579.8,842.4 L580.4,841.0 L580.9,839.6 L581.5,838.2 L582.1,836.8 L582.7,835.4 L583.3,834.1 L583.9,832.7 L584.5,831.3 L585.0,829.9 L585.6,828.5 L586.3,827.2 L586.9,825.8 L587.5,824.4 L588.1,823.1 L588.7,821.7 L589.3,820.3 L590.0,819.0 L590.6,817.6 L591.2,816.2 L591.9,814.9 L592.5,813.5 L593.2,812.2 L593.9,810.9 L594.6,809.5 L595.3,808.2 L596.0,806.9 L596.7,805.5 L597.4,804.2 L598.0,802.9 L598.7,801.5 L599.3,800.2 L599.9,798.8 L600.5,797.4 L601.0,796.0 L601.6,794.6 L602.2,793.2 L602.9,791.9 L603.6,790.6 L604.4,789.4 L605.2,788.2 L606.1,786.9 L607.1,785.8 L608.1,784.6 L609.1,783.5 L610.1,782.3 L611.1,781.2 L612.2,780.1 L613.3,779.0 L614.3,778.0 L615.4,777.0 L616.7,776.0 L618.0,775.1 L619.3,774.2 L620.5,773.3 L621.6,772.3 L622.5,771.2 L623.1,770.0 L623.6,768.7 L624.1,767.4 L624.6,765.9 L624.9,764.4 L625.3,762.9 L625.7,761.3 L626.0,759.8 L626.4,758.4 L626.8,756.9 L627.1,755.5 L627.5,754.0 L627.8,752.6 L628.1,751.1 L628.4,749.6 L628.8,748.2 L629.1,746.7 L629.4,745.2 L629.7,743.7 L630.0,742.3 L630.3,740.8 L630.6,739.3 L630.9,737.9 L631.2,736.4 L631.5,734.9 L631.7,733.4 L632.0,732.0 L632.3,730.5 L632.6,729.0 L632.9,727.5 L633.2,726.1 L633.4,724.6 L633.7,723.1 L634.0,721.6 L634.2,720.2 L634.5,718.7 L634.8,717.2 L635.1,715.7 L635.3,714.3 L635.6,712.8 L635.9,711.3 L636.1,709.8 L636.4,708.4 L636.7,706.9 L637.0,705.4 L637.2,703.9 L637.5,702.5 L637.8,701.0 L638.1,699.5 L638.4,698.0 L638.7,696.6 L639.0,695.1 L639.2,693.6 L639.5,692.2 L639.8,690.7 L640.1,689.2 L640.4,687.7 L640.7,686.3 L641.0,684.8 L641.3,683.3 L641.6,681.8 L641.9,680.4 L642.2,678.9 L642.5,677.4 L642.8,676.0 L643.1,674.5 L643.4,673.0 L643.7,671.6 L644.0,670.1 L644.3,668.6 L644.6,667.1 L644.9,665.7 L645.2,664.2 L645.5,662.7 L645.8,661.3 L646.1,659.8 L646.4,658.3 L646.7,656.9 L647.0,655.4 L647.3,653.9 L647.6,652.5 L648.0,651.0 L648.3,649.5 L648.6,648.1 L648.9,646.6 L649.2,645.1 L649.5,643.7 L649.9,642.2 L650.2,640.7 L650.5,639.3 L650.8,637.8 L651.1,636.3 L651.5,634.9 L651.8,633.4 L652.1,631.9 L652.5,630.5 L652.8,629.0 L653.1,627.5 L653.5,626.1 L653.8,624.6 L654.1,623.2 L654.5,621.7 L654.8,620.2 L655.1,618.8 L655.5,617.3 L655.8,615.9 L656.2,614.4 L656.5,612.9 L656.9,611.5 L657.2,610.0 L657.5,608.5 L657.9,607.1 L658.2,605.6 L658.6,604.2 L658.9,602.7 L659.2,601.2 L659.6,599.8 L659.9,598.3 L660.2,596.8 L660.6,595.4 L660.9,593.9 L661.2,592.5 L661.6,591.0 L661.9,589.5 L662.2,588.1 L662.5,586.6 L662.9,585.1 L663.2,583.7 L663.6,582.2 L663.9,580.8 L664.2,579.3 L664.6,577.8 L664.9,576.4 L665.3,574.9 L665.6,573.5 L666.0,572.0 L666.4,570.5 L666.7,569.1 L667.1,567.6 L667.5,566.2 L667.9,564.7 L668.2,563.3 L668.6,561.8 L669.0,560.4 L669.4,558.9 L669.8,557.5 L670.2,556.0 L670.6,554.6 L671.0,553.1 L671.4,551.7 L671.8,550.2 L672.2,548.8 L672.5,547.3 L672.9,545.9 L673.3,544.5 L673.7,543.0 L674.1,541.6 L674.5,540.1 L674.9,538.7 L675.3,537.2 L675.7,535.8 L676.0,534.3 L676.4,532.9 L676.8,531.4 L677.2,529.9 L677.6,528.5 L677.9,527.0 L678.3,525.6 L678.7,524.1 L679.1,522.7 L679.4,521.2 L679.8,519.8 L680.2,518.3 L680.6,516.9 L681.0,515.4 L681.3,514.0 L681.7,512.5 L682.1,511.1 L682.5,509.6 L682.9,508.2 L683.3,506.7 L683.7,505.3 L684.1,503.8 L684.5,502.4 L685.0,501.0 L685.4,499.5 L685.8,498.1 L686.2,496.7 L686.7,495.2 L687.1,493.8 L687.6,492.4 L688.0,490.9 L688.5,489.5 L688.9,488.1 L689.4,486.6 L689.8,485.2 L690.3,483.8 L690.7,482.3 L691.2,480.9 L691.7,479.5 L692.1,478.0 L692.6,476.6 L693.0,475.2 L693.5,473.8 L694.0,472.3 L694.4,470.9 L694.9,469.5 L695.3,468.0 L695.8,466.6 L696.2,465.2 L696.7,463.8 L697.1,462.3 L697.6,460.9 L698.0,459.4 L698.4,458.0 L698.9,456.6 L699.3,455.1 L699.7,453.7 L700.2,452.3 L700.7,450.8 L701.1,449.4 L701.6,448.0 L702.1,446.6 L702.7,445.2 L703.3,443.8 L703.9,442.4 L704.5,441.1 L705.1,439.7 L705.7,438.3 L706.3,437.0 L706.9,435.6 L707.5,434.2 L708.0,432.8 L708.5,431.4 L709.0,430.0 L709.5,428.5 L710.0,427.1 L710.4,425.7 L710.9,424.3 L711.3,422.8 L711.7,421.4 L712.2,420.0 L712.6,418.5 L713.0,417.1 L713.4,415.6 L713.9,414.2 L714.3,412.7 L714.7,411.3 L715.1,409.9 L715.5,408.4 L716.0,407.0 L716.4,405.5 L716.8,404.1 L717.3,402.7 L717.7,401.2 L718.1,399.8 L718.6,398.4 L719.0,396.9 L719.4,395.5 L719.9,394.0 L720.3,392.6 L720.7,391.2 L721.1,389.7 L721.6,388.3 L722.0,386.8 L722.4,385.4 L722.9,384.0 L723.3,382.5 L723.7,381.1 L724.2,379.7 L724.6,378.2 L725.1,376.8 L725.6,375.4 L726.0,374.0 L726.5,372.5 L727.0,371.1 L727.4,369.7 L727.9,368.3 L728.4,366.9 L728.9,365.4 L729.4,364.0 L729.9,362.6 L730.5,361.2 L731.0,359.8 L731.5,358.4 L732.0,357.0 L732.5,355.6 L733.1,354.2 L733.6,352.8 L734.1,351.4 L734.6,350.0 L735.2,348.5 L735.7,347.1 L736.2,345.7 L736.7,344.3 L737.3,342.9 L737.8,341.5 L738.3,340.1 L738.8,338.7 L739.4,337.3 L739.9,335.9 L740.4,334.5 L741.0,333.1 L741.5,331.7 L742.0,330.3 L742.6,328.9 L743.1,327.5 L743.7,326.1 L744.2,324.7 L744.8,323.3 L745.3,321.9 L745.9,320.5 L746.4,319.1 L747.0,317.7 L747.6,316.3 L748.2,315.0 L748.7,313.6 L749.3,312.2 L749.9,310.8 L750.5,309.4 L751.1,308.0 L751.7,306.7 L752.3,305.3 L752.9,303.9 L753.5,302.5 L754.1,301.1 L754.7,299.8 L755.4,298.4 L756.0,297.1 L756.6,295.7 L757.3,294.4 L758.0,293.0 L758.7,291.7 L759.4,290.4 L760.1,289.1 L760.8,287.8 L761.5,286.5 L762.3,285.2 L763.1,283.9 L763.8,282.6 L764.6,281.3 L765.4,280.0 L766.3,278.8 L767.1,277.5 L767.9,276.3 L768.8,275.0 L769.6,273.8 L770.5,272.6 L771.4,271.4 L772.3,270.2 L773.2,269.0 L774.1,267.8 L775.0,266.6 L776.0,265.4 L777.0,264.3 L777.9,263.1 L778.9,262.0 L779.9,260.9 L780.9,259.8 L781.9,258.6 L782.9,257.5 L783.9,256.4 L784.9,255.2 L785.9,254.1 L787.0,253.0 L788.0,251.9 L789.1,250.8 L790.2,249.9 L791.4,249.0 L792.6,248.1 L794.0,247.3 L795.4,246.6 L796.7,246.4 L797.8,246.9 L798.9,248.1 L800.0,249.4 L801.0,250.8 L801.9,252.1 L802.8,253.6 L803.7,255.3 L804.6,256.7 L805.3,257.7 L805.9,258.0 L806.5,257.5 L807.0,256.5 L807.5,255.1 L807.9,253.4 L808.4,251.5 L808.7,249.6 L809.1,247.8 L809.3,246.2 L809.6,244.7 L809.8,243.3 L810.0,241.8 L810.1,240.3 L810.3,238.8 L810.4,237.2 L810.6,235.7 L810.7,234.2 L810.9,232.7 L811.1,231.3 L811.3,229.8 L811.5,228.3 L811.8,226.9 L812.1,225.4 L812.5,224.0 L813.0,222.6 L813.5,221.1 L814.0,219.7 L814.6,218.3 L815.1,216.9 L815.7,215.5 L816.3,214.1 L816.9,212.7 L817.5,211.4 L818.1,210.0 L818.7,208.6 L819.4,207.3 L820.0,205.9 L820.7,204.6 L821.4,203.2 L822.1,201.9 L822.8,200.6 L823.5,199.2 L824.2,197.9 L825.0,196.6 L825.7,195.3 L826.5,194.0 L827.3,192.6 L828.1,191.3 L828.9,190.1 L829.8,188.9 L830.7,187.7 L831.7,186.7 L832.9,185.6 L834.3,184.5 L835.7,183.5 L837.0,182.7 L838.1,182.3 L838.9,182.5 L839.6,183.4 L840.2,184.8 L840.7,186.6 L841.2,188.4 L841.7,190.1 L842.3,191.6 L842.8,193.4 L843.4,195.2 L843.9,197.0 L844.4,198.5 L844.9,199.5 L845.5,199.8 L846.0,199.3 L846.6,198.2 L847.2,196.7 L847.7,194.9 L848.3,193.0 L848.7,191.3 L849.1,189.8 L849.3,188.3 L849.6,186.7 L849.7,185.2 L849.9,183.6 L850.1,182.0 L850.3,180.5 L850.5,179.1 L850.8,177.7 L851.2,176.5 L851.8,175.4 L852.8,174.3 L853.9,173.4 L855.3,172.5 L856.6,171.6 L858.0,170.6 L859.2,169.7 L860.3,168.7 L861.5,167.6 L862.6,166.6 L863.7,165.6 L864.8,164.5 L865.7,163.4 L866.6,162.2 L867.4,161.0 L868.1,159.7 L868.8,158.4 L869.5,157.1 L870.1,155.7 L870.8,154.3 L871.4,152.9 L872.0,151.5 L872.6,150.1 L873.3,148.8 L873.9,147.4 L874.6,146.0 L875.2,144.6 L875.8,143.3 L876.5,141.9 L877.1,140.5 L877.8,139.1 L878.4,137.8 L879.2,136.5 L879.9,135.3 L880.8,134.1 L881.7,132.9 L882.6,131.7 L883.6,130.6 L884.7,129.5 L885.8,128.4 L886.9,127.4 L888.1,126.4 L889.3,125.5 L890.4,124.7 L891.7,123.9 L893.0,123.2 L894.3,122.5 L895.7,121.9 L897.1,121.2 L898.5,120.6 L899.9,120.0 L901.3,119.4 L902.7,118.8 L904.1,118.3 L905.5,117.8 L906.9,117.3 L908.3,116.8 L909.7,116.2 L911.1,115.7 L912.5,115.1 L913.8,114.4 L915.1,113.6 L916.3,112.8 L917.5,112.0 L918.7,111.1 L919.9,110.1 L921.1,109.2 L922.3,108.3 L923.5,107.4 L924.8,106.5 L926.0,105.6 L927.2,104.7 L928.4,103.8 L929.6,102.9 L930.8,102.0 L932.1,101.2 L933.3,100.3 L934.5,99.5 L935.8,98.7 L937.1,97.9 L938.4,97.2 L939.7,96.5 L941.1,95.8 L942.4,95.1 L943.8,94.5 L945.1,93.9 L946.5,93.2 L947.9,92.6 L949.2,92.0 L950.6,91.4 L952.0,90.9 L953.4,90.3 L954.8,89.7 L956.2,89.2 L957.6,88.7 L959.0,88.2 L960.4,87.7 L961.9,87.2 L963.3,86.8 L964.7,86.3 L966.2,85.9 L967.6,85.5 L969.0,85.1 L970.5,84.7 L971.9,84.3 L973.4,84.0 L974.9,83.6 L976.3,83.3 L977.8,83.0 L979.3,82.7 L980.8,82.5 L982.2,82.2 L983.7,82.0 L985.2,81.7 L986.7,81.5 L988.2,81.3 L989.7,81.0 L991.1,80.9 L992.6,80.7 L994.1,80.5 L995.6,80.4 L997.1,80.3 L998.6,80.2 L1000.1,80.0 L1001.6,79.9 L1003.1,79.9 L1004.6,79.8 L1006.1,79.8 L1007.6,79.8 L1009.1,79.8 L1010.6,79.8 L1012.1,79.8 L1013.6,79.8 L1015.1,79.8 L1016.6,79.8 L1018.1,79.8 L1019.6,79.8 L1021.1,79.9 L1022.6,80.1 L1024.1,80.2 L1025.6,80.3 L1027.1,80.4 L1028.6,80.5 L1030.1,80.5 L1031.6,80.5 L1033.1,80.5 L1034.6,80.5 L1036.1,80.5 L1037.6,80.5 L1039.1,80.5 L1040.6,80.5 L1042.1,80.5 L1043.6,80.6 L1045.1,80.6 L1046.6,80.7 L1048.1,80.9 L1049.6,81.0 L1051.1,81.2 L1052.6,81.4 L1054.0,81.6 L1055.5,81.9 L1056.9,82.3 L1058.4,82.7 L1059.8,83.2 L1061.3,83.6 L1062.7,84.1 L1064.2,84.4 L1065.6,84.8 L1067.1,85.1 L1068.6,85.4 L1070.0,85.7 L1071.5,86.0 L1073.0,86.2 L1074.5,86.5 L1075.9,86.8 L1077.4,87.0 L1078.9,87.3 L1080.4,87.6 L1081.9,87.8 L1083.3,88.1 L1084.8,88.3 L1086.3,88.5 L1087.8,88.7 L1089.3,88.9 L1090.8,89.0 L1092.3,89.2 L1093.8,89.3 L1095.3,89.4 L1096.8,89.5 L1098.3,89.7 L1099.7,89.8 L1101.2,90.0 L1102.7,90.2 L1104.2,90.4 L1105.7,90.6 L1107.2,90.8 L1108.7,91.1 L1110.2,91.3 L1111.6,91.6 L1113.0,92.0 L1114.4,92.5 L1115.9,93.0 L1117.2,93.6 L1118.6,94.2 L1120.0,94.9 L1121.4,95.5 L1122.8,96.1 L1124.1,96.8 L1125.4,97.7 L1126.7,98.6 L1128.0,99.5 L1129.4,100.2 L1130.7,100.6 L1132.1,100.8 L1133.6,100.8 L1135.2,100.8 L1136.7,100.8 L1138.2,100.8 L1139.6,100.9 L1140.9,101.3 L1142.1,102.2 L1143.4,103.2 L1144.6,104.3 L1145.8,105.3 L1147.0,106.1 L1148.3,107.0 L1149.5,108.0 L1150.7,108.9 L1151.9,109.8 L1153.1,110.7 L1154.3,111.6 L1155.5,112.4 L1156.8,113.2 L1158.1,113.9 L1159.4,114.5 L1160.8,115.1 L1162.2,115.6 L1163.6,116.1 L1165.0,116.6 L1166.5,117.2 L1167.9,117.7 L1169.3,118.2 L1170.7,118.7 L1172.1,119.3 L1173.5,119.8 L1174.9,120.3 L1176.4,120.8 L1177.8,121.3 L1179.1,121.9 L1180.5,122.5 L1181.8,123.2 L1183.2,123.9 L1184.5,124.6 L1185.8,125.4 L1187.1,126.2 L1188.4,126.9 L1189.7,127.7 L1191.0,128.4 L1192.3,129.1 L1193.7,129.7 L1195.1,130.3 L1196.4,130.9 L1197.8,131.5 L1199.2,132.1 L1200.6,132.7 L1201.9,133.4 L1203.2,134.1 L1204.5,134.8 L1205.8,135.5 L1207.1,136.3 L1208.4,137.1 L1209.7,137.9 L1210.9,138.7 L1212.2,139.6 L1213.4,140.4 L1214.6,141.3 L1215.8,142.2 L1217.1,143.1 L1218.2,144.0 L1219.4,144.9 L1220.6,145.8 L1221.8,146.8 L1222.9,147.7 L1224.1,148.7 L1225.2,149.7 L1226.4,150.7 L1227.5,151.7 L1228.6,152.7 L1229.6,153.7 L1230.7,154.8 L1231.7,155.9 L1232.8,156.9 L1233.8,158.0 L1234.9,159.1 L1235.9,160.2 L1237.0,161.3 L1238.0,162.3 L1239.1,163.4 L1240.1,164.5 L1241.2,165.5 L1242.3,166.6 L1243.3,167.7 L1244.4,168.7 L1245.4,169.8 L1246.5,170.9 L1247.5,171.9 L1248.6,173.0 L1249.7,174.0 L1250.8,175.0 L1251.9,176.1 L1253.0,177.1 L1254.1,178.1 L1255.2,179.2 L1256.3,180.2 L1257.4,181.2 L1258.5,182.2 L1259.6,183.2 L1260.8,184.1 L1262.0,185.1 L1263.1,186.0 L1264.3,187.0 L1265.5,188.0 L1266.7,188.9 L1267.9,189.8 L1269.1,190.6 L1270.4,191.3 L1271.7,192.0 L1273.1,192.6 L1274.5,193.1 L1275.9,193.6 L1277.4,194.0 L1278.8,194.5 L1280.2,195.1 L1281.6,195.7 L1282.9,196.4 L1284.2,197.2 L1285.5,197.9 L1286.9,198.6 L1288.2,199.3 L1289.6,199.8 L1291.0,200.4 L1292.4,201.0 L1293.8,201.5 L1295.3,202.0 L1296.7,202.4 L1298.2,202.6 L1299.7,202.6 L1301.2,202.5 L1302.7,202.4 L1304.2,202.3 L1305.7,202.1 L1307.2,201.9 L1308.6,201.6 L1309.9,201.1 L1311.2,200.4 L1312.5,199.5 L1313.8,198.6 L1315.0,197.7 L1316.3,196.9 L1317.7,196.2 L1319.2,195.7 L1320.8,195.3 L1322.3,194.9 L1323.7,194.5 L1324.7,193.8 L1325.5,192.9 L1326.2,191.7 L1326.8,190.4 L1327.3,188.8 L1327.9,187.2 L1328.4,185.6 L1328.9,184.1 L1329.4,182.7 L1329.9,181.3 L1330.4,179.9 L1330.9,178.5 L1331.4,177.0 L1331.9,175.6 L1332.3,174.2 L1332.8,172.7 L1333.2,171.3 L1333.7,169.9 L1334.1,168.4 L1334.5,167.0 L1334.9,165.6 L1335.3,164.1 L1335.7,162.7 L1336.1,161.2 L1336.5,159.8 L1336.9,158.3 L1337.3,156.9 L1337.7,155.4 L1338.2,154.0 L1338.6,152.6 L1339.0,151.1 L1339.5,149.7 L1340.0,148.3 L1340.5,146.9 L1340.9,145.4 L1341.4,144.0 L1341.9,142.6 L1342.4,141.2 L1342.9,139.8 L1343.4,138.3 L1343.9,136.9 L1344.3,135.5 L1344.8,134.0 L1345.3,132.6 L1345.8,131.2 L1346.2,129.8 L1346.7,128.3 L1347.3,126.9 L1347.8,125.5 L1348.4,124.2 L1348.9,122.8 L1349.6,121.5 L1350.2,120.1 L1350.9,118.8 L1351.6,117.4 L1352.4,116.1 L1353.2,114.8 L1354.0,113.5 L1354.8,112.3 L1355.6,111.0 L1356.5,109.8 L1357.3,108.6 L1358.2,107.4 L1359.1,106.2 L1360.1,105.1 L1361.1,103.9 L1362.1,102.8 L1363.1,101.7 L1364.2,100.6 L1365.2,99.5 L1366.3,98.5 L1367.4,97.5 L1368.5,96.4 L1369.6,95.4 L1370.8,94.4 L1371.9,93.4 L1373.1,92.5 L1374.3,91.6 L1375.5,90.7 L1376.8,89.9 L1378.0,89.1 L1379.3,88.4 L1380.6,87.6 L1381.9,86.9 L1383.3,86.2 L1384.7,85.5 L1386.1,84.9 L1387.5,84.4 L1388.9,84.0 L1390.3,83.7 L1391.8,83.3 L1393.3,83.0 L1394.7,82.8 L1396.2,82.5 L1397.7,82.3 L1399.2,82.2 L1400.7,82.1 L1402.2,82.1 L1403.8,82.1 L1405.3,82.1 L1406.8,82.1 L1408.3,82.1 L1409.8,82.1 L1411.3,82.1 L1412.8,82.1 L1414.2,82.4 L1415.6,83.1 L1417.0,83.7 L1418.4,83.8 L1420.0,83.7 L1421.5,83.4 L1423.0,83.3 L1424.5,83.0 L1425.9,83.3 L1427.2,84.1 L1428.5,85.3 L1429.7,87.0 L1430.7,88.4 L1431.9,88.4 L1433.4,88.5 L1434.7,89.5 L1435.8,90.9 L1437.1,92.0 L1438.3,92.8 L1439.4,93.2 L1440.6,93.5 L1441.8,94.2 L1442.9,95.1 L1444.0,96.4 L1445.1,98.2 L1446.2,99.9 L1447.3,101.0 L1448.5,101.5 L1449.8,102.2 L1451.0,103.2 L1451.9,104.1 L1452.7,105.5 L1453.7,106.9 L1454.7,107.6 L1455.7,108.4 L1456.3,110.0 L1456.9,111.6 L1457.5,112.6 L1458.1,113.5 L1458.9,114.9 L1459.5,116.7 L1460.3,118.6 L1461.3,119.3 L1462.4,119.8 L1463.4,121.5 L1464.4,123.1 L1465.5,124.0 L1466.4,124.8 L1467.2,126.2 L1468.0,128.1 L1468.6,129.9 L1469.2,131.8 L1469.8,133.5 L1470.7,134.5 L1471.7,135.5 L1472.3,135.5 L1473.2,134.9 L1475.0,134.8 L1476.7,134.9 L1477.9,135.8 L1478.8,137.4 L1479.6,138.6 L1480.4,139.7 L1481.1,141.0 L1481.9,142.4 L1482.4,144.2 L1482.9,146.1 L1483.4,147.4 L1483.9,148.5 L1484.4,150.5 L1484.9,152.7 L1485.5,154.0 L1486.0,154.7 L1486.1,155.4 L1486.4,156.8 L1486.8,158.4 L1487.3,159.8 L1487.8,162.0 L1488.5,163.6 L1489.1,164.6 L1489.3,165.9 L1489.6,167.2 L1490.0,168.9 L1490.6,170.9 L1491.0,172.5 L1491.3,173.7 L1491.5,174.6 L1491.9,176.0 L1492.4,177.7 L1492.9,178.8 L1493.2,180.3 L1493.5,182.2 L1493.8,183.6 L1494.1,184.7 L1494.5,186.1 L1494.7,187.8 L1495.0,189.2 L1495.4,190.6 L1495.8,192.2 L1496.2,193.6 L1496.5,194.9 L1496.8,196.3 L1497.0,197.8 L1497.3,199.4 L1497.7,201.0 L1498.0,202.5 L1498.2,203.9 L1498.6,205.4 L1498.9,206.9 L1499.2,208.4 L1499.5,209.8 L1499.8,211.3 L1500.1,212.8 L1500.3,214.3 L1500.6,215.7 L1500.9,217.2 L1501.1,218.7 L1501.4,220.2 L1501.6,221.6 L1501.9,223.1 L1502.1,224.6 L1502.3,226.1 L1502.5,227.6 L1502.7,229.1 L1502.9,230.5 L1503.1,232.0 L1503.3,233.5 L1503.5,235.0 L1503.7,236.5 L1503.9,238.0 L1504.1,239.5 L1504.3,241.0 L1504.5,242.5 L1504.7,243.9 L1504.9,245.4 L1505.1,246.9 L1505.3,248.4 L1505.5,249.9 L1505.6,251.4 L1505.8,252.9 L1506.0,254.4 L1506.2,255.8 L1506.4,257.3 L1506.6,258.8 L1506.8,260.3 L1507.0,261.8 L1507.1,263.3 L1507.3,264.8 L1507.5,266.3 L1507.7,267.8 L1507.9,269.3 L1508.1,270.7 L1508.2,272.2 L1508.4,273.7 L1508.6,275.2 L1508.8,276.7 L1509.0,278.2 L1509.1,279.7 L1509.3,281.2 L1509.5,282.7 L1509.7,284.1 L1509.9,285.6 L1510.1,287.1 L1510.3,288.6 L1510.4,290.1 L1510.6,291.6 L1510.8,293.1 L1511.0,294.6 L1511.1,296.1 L1511.3,297.6 L1511.4,299.0 L1511.6,300.5 L1511.8,302.0 L1511.9,303.5 L1512.0,305.0 L1512.2,306.5 L1512.3,308.0 L1512.4,309.5 L1512.5,311.0 L1512.7,312.5 L1512.8,314.0 L1512.9,315.5 L1513.0,317.0 L1513.1,318.5 L1513.2,320.0 L1513.3,321.5 L1513.4,323.0 L1513.5,324.5 L1513.6,326.0 L1513.7,327.5 L1513.8,329.0 L1514.0,330.5 L1514.1,332.0 L1514.2,333.4 L1514.3,334.9 L1514.4,336.4 L1514.5,337.9 L1514.7,339.4 L1514.8,340.9 L1514.9,342.4 L1515.1,343.9 L1515.2,345.4 L1515.3,346.9 L1515.4,348.4 L1515.6,349.9 L1515.7,351.4 L1515.8,352.9 L1516.0,354.4 L1516.1,355.9 L1516.2,357.4 L1516.4,358.9 L1516.5,360.4 L1516.6,361.9 L1516.7,363.3 L1516.9,364.8 L1517.0,366.3 L1517.1,367.8 L1517.2,369.3 L1517.4,370.8 L1517.5,372.3 L1517.6,373.8 L1517.7,375.3 L1517.8,376.8 L1518.0,378.3 L1518.1,379.8 L1518.2,381.3 L1518.3,382.8 L1518.4,384.3 L1518.6,385.8 L1518.7,387.3 L1518.8,388.8 L1518.9,390.3 L1519.1,391.8 L1519.2,393.3 L1519.3,394.8 L1519.5,396.2 L1519.6,397.7 L1519.8,399.2 L1519.9,400.7 L1520.0,402.2 L1520.2,403.7 L1520.3,405.2 L1520.4,406.7 L1520.6,408.2 L1520.7,409.7 L1520.9,411.2 L1521.0,412.7 L1521.1,414.2 L1521.2,415.7 L1521.4,417.2 L1521.5,418.7 L1521.6,420.2 L1521.7,421.7 L1521.8,423.2 L1521.9,424.6 L1522.1,426.1 L1522.2,427.6 L1522.3,429.1 L1522.4,430.6 L1522.5,432.1 L1522.6,433.6 L1522.7,435.1 L1522.8,436.6 L1522.9,438.1 L1523.0,439.6 L1523.1,441.1 L1523.2,442.6 L1523.2,444.1 L1523.3,445.6 L1523.4,447.1 L1523.5,448.6 L1523.6,450.1 L1523.6,451.6 L1523.7,453.1 L1523.8,454.6 L1523.8,456.1 L1523.9,457.6 L1524.0,459.1 L1524.0,460.6 L1524.1,462.1 L1524.2,463.6 L1524.3,465.1 L1524.3,466.6 L1524.4,468.1 L1524.5,469.6 L1524.6,471.1 L1524.7,472.6 L1524.7,474.1 L1524.8,475.6 L1524.9,477.1 L1525.0,478.6 L1525.1,480.1 L1525.3,481.6 L1525.4,483.1 L1525.5,484.6 L1525.6,486.1 L1525.7,487.6 L1525.8,489.0 L1526.0,490.5 L1526.1,492.0 L1526.2,493.5 L1526.4,495.0 L1526.5,496.5 L1526.6,498.0 L1526.8,499.5 L1526.9,501.0 L1527.0,502.5 L1527.2,504.0 L1527.3,505.5 L1527.4,507.0 L1527.6,508.5 L1527.7,510.0 L1527.8,511.5 L1528.0,513.0 L1528.1,514.5 L1528.2,516.0 L1528.3,517.4 L1528.5,518.9 L1528.6,520.4 L1528.7,521.9 L1528.9,523.4 L1529.0,524.9 L1529.1,526.4 L1529.3,527.9 L1529.4,529.4 L1529.5,530.9 L1529.7,532.4 L1529.8,533.9 L1529.9,535.4 L1530.1,536.9 L1530.2,538.4 L1530.3,539.9 L1530.5,541.4 L1530.6,542.9 L1530.7,544.4 L1530.9,545.8 L1531.0,547.3 L1531.1,548.8 L1531.3,550.3 L1531.4,551.8 L1531.5,553.3 L1531.7,554.8 L1531.8,556.3 L1531.9,557.8 L1532.0,559.3 L1532.2,560.8 L1532.3,562.3 L1532.4,563.8 L1532.5,565.3 L1532.7,566.8 L1532.8,568.3 L1532.9,569.8 L1533.0,571.3 L1533.2,572.8 L1533.3,574.3 L1533.4,575.7 L1533.5,577.2 L1533.7,578.7 L1533.8,580.2 L1533.9,581.7 L1534.0,583.2 L1534.1,584.7 L1534.3,586.2 L1534.4,587.7 L1534.5,589.2 L1534.6,590.7 L1534.8,592.2 L1534.9,593.7 L1535.0,595.2 L1535.2,596.7 L1535.3,598.2 L1535.4,599.7 L1535.5,601.2 L1535.7,602.7 L1535.8,604.2 L1535.9,605.7 L1536.1,607.1 L1536.2,608.6 L1536.4,610.1 L1536.5,611.6 L1536.6,613.1 L1536.8,614.6 L1536.9,616.1 L1537.0,617.6 L1537.2,619.1 L1537.3,620.6 L1537.5,622.1 L1537.6,623.6 L1537.7,625.1 L1537.9,626.6 L1538.0,628.1 L1538.1,629.6 L1538.2,631.1 L1538.4,632.6 L1538.5,634.0 L1538.6,635.5 L1538.7,637.0 L1538.8,638.5 L1538.9,640.0 L1539.1,641.5 L1539.2,643.0 L1539.3,644.5 L1539.3,646.0 L1539.4,647.5 L1539.5,649.0 L1539.6,650.5 L1539.7,652.0 L1539.8,653.5 L1539.9,655.0 L1540.0,656.5 L1540.1,658.0 L1540.2,659.5 L1540.3,661.0 L1540.3,662.5 L1540.4,664.0 L1540.5,665.5 L1540.6,667.0 L1540.8,668.5 L1540.9,670.0 L1541.0,671.5 L1541.1,673.0 L1541.2,674.5 L1541.4,676.0 L1541.5,677.5 L1541.7,678.9 L1541.9,680.4 L1542.0,681.9 L1542.2,683.4 L1542.4,684.9 L1542.6,686.4 L1542.8,687.9 L1542.9,689.4 L1543.1,690.9 L1543.2,692.4 L1543.3,693.9 L1543.4,695.4 L1543.5,696.9 L1543.6,698.4 L1543.7,699.8 L1543.7,701.3 L1543.8,702.8 L1543.8,704.3 L1543.9,705.8 L1543.9,707.3 L1544.0,708.8 L1544.0,710.3 L1544.1,711.8 L1544.1,713.3 L1544.2,714.9 L1544.2,716.4 L1544.2,717.9 L1544.3,719.4 L1544.3,720.9 L1544.4,722.4 L1544.5,723.9 L1544.5,725.3 L1544.6,726.8 L1544.7,728.5 L1544.8,730.2 L1544.9,732.1 L1545.0,734.1 L1545.1,736.0 L1545.2,738.0 L1545.3,740.0 L1545.5,741.8 L1545.6,743.6 L1545.7,745.2 L1545.9,746.6 L1546.0,747.8 L1546.2,748.7 L1546.4,749.2 L1546.6,749.5 L1546.8,749.3 L1547.0,748.8 L1547.3,747.8 L1547.5,746.6 L1547.9,745.0 L1548.2,743.3 L1548.5,741.5 L1548.9,739.6 L1549.2,737.6 L1549.6,735.7 L1549.9,733.8 L1550.3,732.2 L1550.6,730.6 L1551.0,728.9 L1551.3,727.0 L1551.6,725.1 L1552.0,723.3 L1552.3,721.7 L1552.8,720.4 L1553.2,719.7 L1553.7,719.7 L1554.4,720.4 L1555.1,721.8 L1555.9,723.4 L1556.7,725.1 L1557.4,726.7 L1558.1,728.3 L1558.7,730.1 L1559.3,731.7 L1559.7,732.4 L1560.1,732.2 L1560.5,731.3 L1560.8,730.1 L1561.1,728.5 L1561.3,726.6 L1561.6,724.7 L1561.8,722.7 L1562.0,720.9 L1562.1,719.3 L1562.3,717.8 L1562.4,716.3 L1562.5,714.8 L1562.7,713.3 L1562.8,711.8 L1562.9,710.4 L1563.0,708.9 L1563.1,707.4 L1563.2,705.9 L1563.2,704.4 L1563.3,702.9 L1563.4,701.4 L1563.5,699.9 L1563.6,698.4 L1563.7,696.9 L1563.8,695.4 L1563.8,693.9 L1563.9,692.4 L1564.1,690.9 L1564.2,689.4 L1564.3,687.9 L1564.4,686.4 L1564.5,684.9 L1564.6,683.4 L1564.7,681.9 L1564.8,680.4 L1564.9,678.9 L1565.0,677.4 L1565.1,675.9 L1565.3,674.4 L1565.4,672.9 L1565.5,671.4 L1565.6,669.9 L1565.7,668.4 L1565.8,666.9 L1565.9,665.4 L1566.0,663.9 L1566.1,662.4 L1566.2,660.9 L1566.3,659.4 L1566.4,657.9 L1566.5,656.4 L1566.6,654.9 L1566.7,653.4 L1566.8,651.9 L1566.9,650.4 L1567.0,648.9 L1567.1,647.5 L1567.2,646.0 L1567.3,644.5 L1567.4,643.0 L1567.5,641.5 L1567.6,640.0 L1567.7,638.5 L1567.8,637.0 L1567.9,635.5 L1568.0,634.0 L1568.1,632.5 L1568.2,631.0 L1568.3,629.5 L1568.4,628.0 L1568.5,626.5 L1568.6,625.0 L1568.7,623.5 L1568.8,622.0 L1568.9,620.5 L1569.1,619.0 L1569.2,617.5 L1569.3,616.0 L1569.4,614.5 L1569.6,613.0 L1569.7,611.5 L1569.8,610.0 L1569.9,608.5 L1570.1,607.0 L1570.2,605.6 L1570.3,604.1 L1570.4,602.6 L1570.6,601.1 L1570.7,599.6 L1570.8,598.1 L1571.0,596.6 L1571.1,595.1 L1571.2,593.6 L1571.3,592.1 L1571.5,590.6 L1571.6,589.1 L1571.7,587.6 L1571.9,586.1 L1572.0,584.6 L1572.1,583.1 L1572.2,581.6 L1572.4,580.1 L1572.5,578.6 L1572.6,577.1 L1572.7,575.7 L1572.9,574.2 L1573.0,572.7 L1573.1,571.2 L1573.2,569.7 L1573.4,568.2 L1573.5,566.7 L1573.6,565.2 L1573.7,563.7 L1573.9,562.2 L1574.0,560.7 L1574.1,559.2 L1574.3,557.7 L1574.4,556.2 L1574.5,554.7 L1574.6,553.2 L1574.8,551.7 L1574.9,550.2 L1575.0,548.7 L1575.2,547.2 L1575.3,545.8 L1575.5,544.3 L1575.6,542.8 L1575.7,541.3 L1575.9,539.8 L1576.0,538.3 L1576.2,536.8 L1576.3,535.3 L1576.5,533.8 L1576.7,532.3 L1576.8,530.8 L1577.0,529.3 L1577.1,527.8 L1577.3,526.3 L1577.5,524.9 L1577.6,523.4 L1577.8,521.9 L1577.9,520.4 L1578.1,518.9 L1578.2,517.4 L1578.4,515.9 L1578.5,514.4 L1578.6,512.9 L1578.8,511.4 L1578.9,509.9 L1579.0,508.4 L1579.1,506.9 L1579.2,505.4 L1579.4,503.9 L1579.5,502.4 L1579.6,500.9 L1579.7,499.4 L1579.8,497.9 L1579.9,496.5 L1580.0,495.0 L1580.0,493.5 L1580.1,492.0 L1580.2,490.5 L1580.3,489.0 L1580.4,487.5 L1580.5,486.0 L1580.6,484.5 L1580.7,483.0 L1580.8,481.5 L1580.9,480.0 L1581.0,478.5 L1581.1,477.0 L1581.3,475.5 L1581.4,474.0 L1581.5,472.5 L1581.6,471.0 L1581.8,469.5 L1581.9,468.0 L1582.0,466.5 L1582.2,465.0 L1582.3,463.5 L1582.4,462.0 L1582.6,460.5 L1582.7,459.0 L1582.9,457.6 L1583.0,456.1 L1583.2,454.6 L1583.3,453.1 L1583.4,451.6 L1583.6,450.1 L1583.7,448.6 L1583.8,447.1 L1584.0,445.6 L1584.1,444.1 L1584.2,442.6 L1584.3,441.1 L1584.4,439.6 L1584.5,438.1 L1584.6,436.6 L1584.8,435.1 L1584.8,433.6 L1584.9,432.1 L1585.0,430.6 L1585.1,429.1 L1585.2,427.6 L1585.3,426.1 L1585.4,424.6 L1585.4,423.1 L1585.5,421.6 L1585.6,420.1 L1585.7,418.6 L1585.7,417.1 L1585.8,415.6 L1585.9,414.2 L1585.9,412.7 L1586.0,411.2 L1586.1,409.7 L1586.1,408.2 L1586.2,406.7 L1586.3,405.2 L1586.3,403.7 L1586.4,402.2 L1586.5,400.7 L1586.5,399.2 L1586.6,397.7 L1586.7,396.2 L1586.7,394.7 L1586.8,393.2 L1586.9,391.7 L1586.9,390.2 L1587.0,388.7 L1587.1,387.2 L1587.1,385.7 L1587.2,384.2 L1587.3,382.7 L1587.3,381.2 L1587.4,379.7 L1587.5,378.2 L1587.5,376.7 L1587.6,375.2 L1587.7,373.7 L1587.7,372.2 L1587.8,370.7 L1587.9,369.2 L1588.0,367.7 L1588.0,366.2 L1588.1,364.7 L1588.2,363.2 L1588.3,361.7 L1588.4,360.2 L1588.4,358.7 L1588.5,357.2 L1588.6,355.7 L1588.7,354.2 L1588.8,352.7 L1588.9,351.2 L1589.0,349.7 L1589.1,348.2 L1589.2,346.7 L1589.3,345.2 L1589.4,343.7 L1589.5,342.2 L1589.6,340.7 L1589.7,339.2 L1589.8,337.7 L1589.9,336.2 L1590.0,334.7 L1590.1,333.2 L1590.2,331.7 L1590.3,330.2 L1590.4,328.7 L1590.5,327.3 L1590.6,325.8 L1590.7,324.3 L1590.8,322.8 L1590.9,321.3 L1591.0,319.8 L1591.1,318.3 L1591.2,316.8 L1591.3,315.3 L1591.4,313.8 L1591.5,312.3 L1591.6,310.8 L1591.7,309.3 L1591.8,307.8 L1591.9,306.3 L1592.0,304.8 L1592.2,303.3 L1592.3,301.8 L1592.4,300.3 L1592.5,298.8 L1592.6,297.3 L1592.7,295.8 L1592.8,294.3 L1592.9,292.8 L1593.0,291.3 L1593.1,289.8 L1593.3,288.3 L1593.4,286.8 L1593.5,285.3 L1593.6,283.8 L1593.7,282.4 L1593.9,280.9 L1594.0,279.4 L1594.1,277.9 L1594.3,276.4 L1594.4,274.9 L1594.5,273.4 L1594.6,271.9 L1594.8,270.4 L1594.9,268.9 L1595.0,267.4 L1595.2,265.9 L1595.3,264.4 L1595.4,262.9 L1595.6,261.4 L1595.7,259.9 L1595.9,258.4 L1596.0,256.9 L1596.1,255.4 L1596.3,254.0 L1596.4,252.5 L1596.5,251.0 L1596.7,249.5 L1596.8,248.0 L1597.0,246.5 L1597.1,245.0 L1597.2,243.5 L1597.4,242.0 L1597.5,240.5 L1597.7,239.0 L1597.8,237.5 L1598.0,236.0 L1598.1,234.5 L1598.3,233.0 L1598.4,231.5 L1598.6,230.0 L1598.7,228.6 L1598.9,227.1 L1599.1,225.6 L1599.3,224.1 L1599.5,222.6 L1599.7,221.1 L1599.9,219.6 L1600.1,218.2 L1600.3,216.7 L1600.6,215.2 L1600.8,213.7 L1601.0,212.2 L1601.3,210.8 L1601.6,209.3 L1601.8,207.8 L1602.1,206.3 L1602.3,204.8 L1602.6,203.4 L1602.9,201.9 L1603.1,200.4 L1603.4,198.9 L1603.6,197.4 L1603.9,196.0 L1604.1,194.5 L1604.3,193.0 L1604.5,191.5 L1604.7,190.0 L1605.0,188.5 L1605.2,187.0 L1605.4,185.6 L1605.6,184.1 L1605.8,182.6 L1606.0,181.1 L1606.2,179.6 L1606.4,178.1 L1606.7,176.6 L1606.9,175.2 L1607.2,173.7 L1607.4,172.2 L1607.7,170.7 L1608.0,169.3 L1608.3,167.8 L1608.6,166.3 L1609.0,164.9 L1609.3,163.4 L1609.7,162.0 L1610.1,160.5 L1610.5,159.0 L1610.9,157.6 L1611.3,156.2 L1611.7,154.7 L1612.2,153.3 L1612.6,151.9 L1613.1,150.4 L1613.5,149.0 L1614.0,147.5 L1614.5,146.1 L1615.0,144.6 L1615.6,143.2 L1616.2,141.8 L1616.8,140.5 L1617.4,139.2 L1618.1,137.9 L1618.9,136.6 L1619.7,135.2 L1620.7,133.9 L1621.7,132.7 L1622.8,131.7 L1623.9,131.0 L1625.4,130.5 L1627.0,130.1 L1628.3,130.0 L1629.3,130.1 L1630.3,131.1 L1631.0,132.6 L1631.5,134.6 L1632.0,136.1 L1632.7,137.1 L1633.4,138.2 L1633.9,139.9 L1634.5,142.0 L1635.1,144.0 L1636.0,144.3 L1637.2,143.1 L1638.8,141.9 L1640.3,141.3 L1640.9,141.6 L1641.4,143.1 L1642.2,145.0 L1642.7,146.6 L1643.1,148.0 L1644.0,149.1 L1644.9,150.4 L1645.8,152.4 L1647.1,154.2 L1648.7,155.2 L1649.9,155.7 L1650.5,156.3 L1651.2,156.9 L1652.0,157.5 L1652.7,158.6 L1653.2,160.1 L1653.9,162.4 L1654.8,164.3 L1656.0,165.2 L1657.5,165.6 L1659.0,165.5 L1660.3,166.1 L1661.7,167.8 L1662.6,169.5 L1663.2,170.1 L1663.8,170.5 L1664.5,171.5 L1665.1,172.9 L1665.7,174.7 L1666.1,176.3 L1666.6,177.7 L1667.3,178.8 L1667.9,180.3 L1668.4,182.7 L1669.0,184.6 L1669.6,186.0 L1670.1,186.9 L1670.4,187.8 L1670.8,189.3 L1671.3,190.6 L1671.8,191.7 L1672.3,193.7 L1672.9,196.2 L1673.3,197.3 L1673.7,198.0 L1673.9,199.2 L1674.2,200.8 L1674.7,202.5 L1675.3,203.8 L1675.6,205.4 L1675.8,206.9 L1676.2,207.8 L1676.7,209.0 L1677.1,210.3 L1677.6,211.6 L1677.8,213.2 L1678.0,215.9 L1678.8,217.9 L1679.4,218.7 L1679.8,219.8 L1680.4,220.8 L1681.1,222.1 L1681.7,224.1 L1682.3,225.6 L1682.9,226.9 L1683.3,228.0 L1683.7,229.1 L1684.1,230.4 L1684.6,232.1 L1685.2,233.6 L1685.7,234.7 L1686.1,236.4 L1686.4,238.2 L1686.7,239.6 L1687.0,240.9 L1687.4,242.3 L1687.8,243.8 L1688.0,245.3 L1688.2,246.7 L1688.5,248.2 L1688.7,249.5 L1688.9,250.9 L1689.2,252.5 L1689.5,254.0 L1689.8,255.5 L1690.1,257.0 L1690.4,258.4 L1690.8,259.9 L1691.2,261.3 L1691.6,262.8 L1692.0,264.2 L1692.3,265.7 L1692.6,267.2 L1692.8,268.6 L1693.0,270.1 L1693.2,271.6 L1693.4,273.1 L1693.6,274.6 L1693.7,276.1 L1693.9,277.6 L1694.0,279.1 L1694.2,280.6 L1694.3,282.1 L1694.5,283.6 L1694.6,285.2 L1694.8,287.0 L1694.9,288.9 L1695.1,290.9 L1695.2,292.8 L1695.3,294.7 L1695.5,296.4 L1695.6,297.9 L1695.8,299.0 L1695.9,299.7 L1696.1,300.0 L1696.3,299.7 L1696.5,299.0 L1696.7,297.9 L1696.9,296.5 L1697.1,294.8 L1697.3,292.9 L1697.5,291.0 L1697.7,289.0 L1698.0,287.1 L1698.2,285.3 L1698.4,283.7 L1698.6,282.2 L1698.8,280.7 L1699.0,279.1 L1699.1,277.6 L1699.3,276.1 L1699.5,274.6 L1699.7,273.1 L1699.9,271.6 L1700.2,270.1 L1700.5,268.7 L1700.8,267.3 L1701.4,265.8 L1702.3,264.2 L1703.2,263.0 L1704.0,262.8 L1704.8,263.5 L1705.5,264.9 L1706.2,266.6 L1706.8,268.4 L1707.2,269.9 L1707.5,271.4 L1707.7,272.8 L1708.0,274.3 L1708.2,275.8 L1708.4,277.3 L1708.6,278.8 L1708.7,280.3 L1708.9,281.8 L1709.1,283.3 L1709.2,284.8 L1709.4,286.3 L1709.6,287.8 L1709.8,289.3 L1710.0,290.8 L1710.2,292.2 L1710.3,293.7 L1710.5,295.2 L1710.7,296.7 L1710.9,298.2 L1711.1,299.7 L1711.2,301.2 L1711.4,302.7 L1711.6,304.2 L1711.8,305.7 L1712.1,307.5 L1712.3,309.4 L1712.5,311.4 L1712.8,313.3 L1713.0,315.1 L1713.3,316.8 L1713.5,318.2 L1713.7,319.2 L1714.0,319.7 L1714.2,319.7 L1714.4,319.2 L1714.7,318.3 L1714.9,316.9 L1715.2,315.3 L1715.4,313.5 L1715.7,311.6 L1715.9,309.6 L1716.1,307.7 L1716.3,305.9 L1716.4,304.3 L1716.6,302.8 L1716.7,301.3 L1716.9,299.8 L1717.0,298.3 L1717.1,296.8 L1717.2,295.3 L1717.3,293.8 L1717.4,292.3 L1717.5,290.8 L1717.6,289.3 L1717.7,287.8 L1717.8,286.3 L1717.9,284.9 L1718.0,283.4 L1718.2,281.9 L1718.3,280.4 L1718.4,278.9 L1718.5,277.4 L1718.6,275.9 L1718.8,274.4 L1718.9,272.9 L1719.0,271.4 L1719.1,269.9 L1719.2,268.4 L1719.4,266.9 L1719.5,265.4 L1719.6,263.9 L1719.7,262.4 L1719.9,260.9 L1720.0,259.4 L1720.1,257.9 L1720.2,256.4 L1720.3,254.9 L1720.5,253.4 L1720.6,251.9 L1720.7,250.5 L1720.8,249.0 L1721.0,247.5 L1721.1,246.0 L1721.2,244.5 L1721.3,243.0 L1721.4,241.5 L1721.6,240.0 L1721.7,238.5 L1721.8,237.0 L1721.9,235.5 L1722.1,234.0 L1722.2,232.5 L1722.3,231.0 L1722.5,229.5 L1722.6,228.0 L1722.7,226.5 L1722.8,225.0 L1723.0,223.5 L1723.1,222.0 L1723.2,220.5 L1723.4,219.1 L1723.5,217.6 L1723.7,216.1 L1723.8,214.6 L1723.9,213.1 L1724.1,211.6 L1724.2,210.1 L1724.3,208.6 L1724.5,207.1 L1724.6,205.6 L1724.8,204.1 L1724.9,202.6 L1725.1,201.1 L1725.2,199.6 L1725.4,198.1 L1725.5,196.6 L1725.7,195.2 L1725.8,193.7 L1726.0,192.2 L1726.1,190.7 L1726.3,189.2 L1726.4,187.7 L1726.6,186.2 L1726.7,184.7 L1726.9,183.2 L1727.0,181.7 L1727.2,180.2 L1727.3,178.7 L1727.5,177.2 L1727.7,175.7 L1727.9,174.3 L1728.0,172.8 L1728.2,171.3 L1728.4,169.8 L1728.6,168.3 L1728.7,166.8 L1728.9,165.3 L1729.1,163.8 L1729.3,162.3 L1729.5,160.9 L1729.7,159.4 L1729.9,157.9 L1730.1,156.4 L1730.3,154.9 L1730.6,153.4 L1730.8,151.9 L1731.0,150.4 L1731.3,149.0 L1731.5,147.5 L1731.8,146.0 L1732.1,144.5 L1732.4,143.1 L1732.7,141.6 L1733.0,140.1 L1733.3,138.6 L1733.6,137.1 L1734.0,135.7 L1734.3,134.2 L1734.7,132.7 L1735.2,131.3 L1735.6,129.9 L1736.1,128.5 L1736.6,127.1 L1737.2,125.7 L1737.8,124.3 L1738.6,122.9 L1739.4,121.5 L1740.4,120.4 L1741.4,119.5 L1742.6,118.8 L1744.1,118.2 L1745.6,117.8 L1747.0,117.9 L1748.4,118.6 L1749.7,119.5 L1750.8,120.5 L1751.7,121.6 L1752.5,122.9 L1753.2,124.3 L1753.8,125.7 L1754.5,127.1 L1755.3,128.4 L1756.2,129.5 L1757.2,130.6 L1758.3,131.6 L1759.5,132.6 L1760.7,133.5 L1761.9,134.5 L1763.0,135.5 L1764.1,136.5 L1765.3,137.6 L1766.4,138.6 L1767.6,139.4 L1768.9,139.9 L1770.4,140.4 L1771.9,140.8 L1773.4,141.1 L1774.9,141.1 L1776.3,140.8 L1777.8,140.5 L1779.3,140.1 L1780.8,139.9 L1782.2,140.0 L1783.7,140.3 L1785.2,140.7 L1786.6,141.3 L1788.0,141.9 L1789.2,142.6 L1790.4,143.5 L1791.6,144.5 L1792.7,145.6 L1793.7,146.8 L1794.7,148.0 L1795.6,149.1 L1796.4,150.3 L1797.3,151.6 L1798.0,152.8 L1798.8,154.1 L1799.5,155.5 L1800.2,156.8 L1801.0,158.2 L1801.7,159.5 L1802.4,160.8 L1803.2,162.1 L1803.9,163.4 L1804.6,164.7 L1805.3,166.0 L1806.0,167.4 L1806.7,168.7 L1807.5,170.0 L1808.2,171.3 L1808.9,172.6 L1809.7,173.9 L1810.4,175.2 L1811.3,176.5 L1812.1,177.8 L1812.8,179.1 L1813.5,180.4 L1814.0,181.8 L1814.5,183.2 L1815.0,184.6 L1815.4,186.0 L1815.8,187.5 L1816.2,188.9 L1816.6,190.4 L1817.0,191.8 L1817.3,193.3 L1817.7,194.8 L1818.1,196.3 L1818.5,197.7 L1818.8,199.2 L1819.2,200.6 L1819.6,202.1 L1820.0,203.5 L1820.4,205.0 L1820.8,206.4 L1821.1,207.9 L1821.5,209.3 L1821.9,210.8 L1822.2,212.2 L1822.6,213.7 L1822.9,215.2 L1823.2,216.6 L1823.5,218.1 L1823.8,219.6 L1824.1,221.0 L1824.3,222.5 L1824.6,224.0 L1824.9,225.5 L1825.1,227.0 L1825.3,228.4 L1825.6,229.9 L1825.8,231.4 L1826.1,232.9 L1826.4,234.4 L1826.6,235.8 L1826.9,237.3 L1827.2,238.8 L1827.5,240.3 L1827.8,241.7 L1828.1,243.2 L1828.5,244.6 L1828.9,246.1 L1829.3,247.5 L1829.7,249.0 L1830.1,250.4 L1830.5,251.8 L1831.0,253.3 L1831.4,254.7 L1831.8,256.2 L1832.2,257.6 L1832.6,259.1 L1833.0,260.5 L1833.4,262.0 L1833.8,263.4 L1834.1,264.9 L1834.4,266.3 L1834.8,267.8 L1835.1,269.3 L1835.4,270.8 L1835.7,272.2 L1836.0,273.7 L1836.3,275.2 L1836.6,276.6 L1836.9,278.1 L1837.2,279.6 L1837.5,281.0 L1837.9,282.5 L1838.3,283.9 L1838.7,285.4 L1839.1,286.8 L1839.5,288.3 L1840.0,289.7 L1840.4,291.1 L1840.9,292.5 L1841.4,294.0 L1841.9,295.4 L1842.3,296.8 L1842.8,298.2 L1843.3,299.7 L1843.7,301.1 L1844.2,302.5 L1844.6,304.0 L1845.0,305.4 L1845.3,306.9 L1845.7,308.4 L1846.1,309.8 L1846.5,311.3 L1846.8,312.7 L1847.2,314.2 L1847.7,315.6 L1848.1,317.0 L1848.6,318.4 L1849.2,319.9 L1849.7,321.4 L1850.4,322.9 L1851.1,324.3 L1851.9,325.3 L1852.9,326.0 L1854.3,326.6 L1855.8,327.1 L1857.4,327.4 L1858.9,327.6 L1860.4,327.7 L1862.0,327.8 L1863.5,327.9 L1864.9,327.9 L1866.1,327.6 L1867.3,326.6 L1868.3,325.3 L1869.3,323.9 L1870.1,322.7 L1870.9,321.4 L1871.7,320.2 L1872.4,318.8 L1873.1,317.5 L1873.8,316.1 L1874.4,314.7 L1874.9,313.2 L1875.4,311.8 L1875.9,310.4 L1876.3,309.0 L1876.8,307.6 L1877.2,306.2 L1877.6,304.7 L1878.0,303.2 L1878.3,301.8 L1878.7,300.3 L1879.0,298.8 L1879.3,297.4 L1879.6,295.9 L1879.9,294.4 L1880.2,292.9 L1880.5,291.5 L1880.7,290.0 L1881.0,288.5 L1881.2,287.0 L1881.5,285.6 L1881.7,284.1 L1881.9,282.6 L1882.1,281.1 L1882.3,279.6 L1882.5,278.1 L1882.7,276.6 L1882.9,275.1 L1883.1,273.7 L1883.3,272.2 L1883.6,270.7 L1883.8,269.2 L1884.0,267.7 L1884.2,266.2 L1884.4,264.7 L1884.7,263.3 L1884.9,261.8 L1885.1,260.3 L1885.3,258.8 L1885.6,257.3 L1885.8,255.8 L1886.0,254.4 L1886.2,252.9 L1886.5,251.4 L1886.7,249.9 L1886.9,248.4 L1887.1,246.9 L1887.3,245.5 L1887.5,244.0 L1887.7,242.5 L1887.9,241.0 L1888.1,239.5 L1888.3,238.0 L1888.5,236.5 L1888.6,235.0 L1888.8,233.5 L1889.1,232.0 L1889.3,230.5 L1889.5,229.0 L1889.8,227.6 L1890.1,226.1 L1890.4,224.7 L1890.7,223.2 L1891.1,221.8 L1891.6,220.3 L1892.1,218.9 L1892.6,217.5 L1893.2,216.1 L1893.8,214.7 L1894.4,213.4 L1895.2,212.1 L1896.1,210.9 L1897.1,209.7 L1897.9,208.4 L1898.7,207.1 L1899.2,205.8 L1899.6,204.4 L1900.0,202.9 L1900.3,201.5 L1900.6,200.0 L1900.9,198.5 L1901.2,197.0 L1901.5,195.5 L1901.9,194.0 L1902.4,192.6 L1902.9,191.0 L1903.4,189.2 L1904.1,187.6 L1904.8,186.3 L1905.7,185.8 L1907.0,185.8 L1908.7,185.8 L1910.3,185.8 L1911.2,186.0 L1912.0,186.9 L1912.7,188.2 L1913.3,189.8 L1913.9,191.6 L1914.5,193.3 L1915.0,194.9 L1915.6,196.3 L1916.0,197.8 L1916.5,199.3 L1916.9,200.8 L1917.4,202.2 L1918.0,203.5 L1918.7,204.7 L1919.9,205.9 L1921.2,207.0 L1922.3,207.3 L1923.2,206.5 L1924.1,205.1 L1924.7,203.4 L1925.2,201.8 L1925.4,200.4 L1925.7,199.0 L1925.9,197.6 L1926.1,196.1 L1926.3,194.6 L1926.5,193.1 L1926.6,191.6 L1926.8,190.1 L1926.9,188.5 L1927.0,187.0 L1927.1,185.5 L1927.3,184.0 L1927.4,182.4 L1927.5,180.9 L1927.7,179.5 L1927.8,178.0 L1927.9,176.5 L1928.1,175.0 L1928.2,173.5 L1928.3,172.0 L1928.4,170.5 L1928.5,169.0 L1928.7,167.5 L1928.8,166.0 L1928.9,164.5 L1929.0,163.0 L1929.1,161.5 L1929.2,160.0 L1929.3,158.5 L1929.5,157.0 L1929.6,155.5 L1929.7,154.0 L1929.9,152.5 L1930.0,151.0 L1930.1,149.5 L1930.3,148.1 L1930.4,146.6 L1930.5,145.1 L1930.7,143.6 L1930.8,142.1 L1931.0,140.6 L1931.1,139.1 L1931.3,137.6 L1931.4,136.1 L1931.6,134.6 L1931.7,133.1 L1931.9,131.6 L1932.1,130.1 L1932.2,128.6 L1932.4,127.1 L1932.6,125.6 L1932.7,124.1 L1932.9,122.5 L1933.1,121.0 L1933.3,119.5 L1933.5,118.0 L1933.8,116.5 L1934.0,115.1 L1934.3,113.6 L1934.6,112.2 L1935.0,110.9 L1935.6,109.6 L1936.4,108.3 L1937.3,107.1 L1938.3,105.8 L1939.3,104.7 L1940.3,103.5 L1941.3,102.4 L1942.4,101.4 L1943.5,100.4 L1944.6,99.3 L1945.8,98.3 L1946.9,97.3 L1948.0,96.3 L1949.0,95.2 L1949.9,94.0 L1950.7,92.8 L1951.5,91.6 L1952.2,90.2 L1952.9,88.9 L1953.5,87.5 L1954.2,86.1 L1954.9,84.8 L1955.7,83.5 L1956.6,82.2 L1957.5,80.8 L1958.5,79.3 L1959.5,78.2 L1960.6,77.6 L1961.8,77.6 L1963.1,78.3 L1964.4,79.3 L1965.7,80.3 L1966.8,81.4 L1967.8,82.5 L1968.7,83.7 L1969.5,84.9 L1970.4,86.1 L1971.4,87.3 L1972.6,88.3 L1973.7,89.3 L1974.9,90.3 L1976.0,91.4 L1976.8,92.5 L1977.5,93.7 L1978.2,95.0 L1978.8,96.4 L1979.3,97.8 L1979.8,99.3 L1980.3,100.7 L1980.8,102.2 L1981.3,103.6 L1981.8,105.1 L1982.2,106.5 L1982.7,107.9 L1983.1,109.3 L1983.6,110.8 L1984.0,112.2 L1984.4,113.7 L1984.8,115.1 L1985.2,116.6 L1985.6,118.0 L1985.9,119.5 L1986.3,120.9 L1986.6,122.4 L1986.9,123.9 L1987.2,125.3 L1987.5,126.8 L1987.8,128.3 L1988.1,129.7 L1988.3,131.2 L1988.6,132.7 L1988.8,134.2 L1989.1,135.7 L1989.3,137.1 L1989.6,138.6 L1989.8,140.1 L1990.1,141.6 L1990.3,143.1 L1990.6,144.5 L1990.9,146.0 L1991.1,147.5 L1991.4,149.0 L1991.6,150.5 L1991.8,152.0 L1992.1,153.5 L1992.3,155.0 L1992.5,156.5 L1992.7,158.0 L1993.0,159.5 L1993.2,161.0 L1993.5,162.5 L1993.7,163.9 L1994.0,165.4 L1994.3,166.9 L1994.6,168.3 L1995.0,169.7 L1995.3,171.2 L1995.7,172.6 L1996.3,173.9 L1996.9,175.3 L1997.7,176.6 L1998.4,177.9 L1999.2,179.2 L1999.9,180.6 L2000.6,181.9 L2001.2,183.3 L2001.7,184.7 L2002.2,186.1 L2002.6,187.5 L2003.0,189.0 L2003.4,190.4 L2003.8,191.9 L2004.1,193.4 L2004.5,194.8 L2004.9,196.3 L2005.3,197.7 L2005.8,199.1 L2006.3,200.6 L2006.8,202.0 L2007.3,203.4 L2007.9,204.7 L2008.5,206.1 L2009.1,207.5 L2009.7,208.9 L2010.3,210.3 L2010.8,211.7 L2011.3,213.1 L2011.9,214.5 L2012.4,215.9 L2012.9,217.3 L2013.4,218.7 L2013.9,220.1 L2014.4,221.6 L2014.9,223.0 L2015.4,224.4 L2015.8,225.8 L2016.3,227.2 L2016.8,228.7 L2017.2,230.1 L2017.7,231.5 L2018.2,232.9 L2018.6,234.4 L2019.1,235.8 L2019.5,237.2 L2019.9,238.7 L2020.4,240.1 L2020.8,241.6 L2021.2,243.0 L2021.7,244.4 L2022.1,245.9 L2022.6,247.3 L2023.0,248.7 L2023.5,250.2 L2023.9,251.6 L2024.4,253.0 L2024.8,254.4 L2025.3,255.9 L2025.7,257.3 L2026.2,258.7 L2026.6,260.2 L2027.1,261.6 L2027.5,263.0 L2027.9,264.5 L2028.4,265.9 L2028.8,267.4 L2029.2,268.8 L2029.6,270.2 L2030.1,271.7 L2030.5,273.1 L2030.9,274.6 L2031.3,276.0 L2031.7,277.4 L2032.1,278.9 L2032.5,280.3 L2032.9,281.8 L2033.3,283.2 L2033.7,284.7 L2034.0,286.1 L2034.4,287.6 L2034.7,289.1 L2035.1,290.5 L2035.4,292.0 L2035.7,293.4 L2036.1,294.9 L2036.4,296.4 L2036.7,297.8 L2037.0,299.3 L2037.3,300.8 L2037.6,302.3 L2037.9,303.7 L2038.2,305.2 L2038.5,306.7 L2038.8,308.1 L2039.1,309.6 L2039.4,311.1 L2039.7,312.6 L2039.9,314.0 L2040.2,315.5 L2040.4,317.0 L2040.7,318.5 L2041.0,319.9 L2041.3,321.4 L2041.5,322.9 L2041.8,324.4 L2042.1,325.8 L2042.5,327.3 L2042.8,328.8 L2043.1,330.3 L2043.4,331.7 L2043.8,333.2 L2044.1,334.7 L2044.5,336.1 L2044.9,337.6 L2045.4,339.0 L2045.9,340.3 L2046.5,341.7 L2047.1,343.0 L2047.9,344.4 L2048.6,345.7 L2049.4,346.9 L2050.2,348.2 L2051.0,349.5 L2051.8,350.8 L2052.6,352.1 L2053.5,353.3 L2054.3,354.5 L2055.2,355.8 L2056.0,357.0 L2056.9,358.3 L2057.7,359.5 L2058.5,360.8 L2059.3,362.0 L2060.1,363.3 L2060.9,364.6 L2061.7,365.8 L2062.5,367.1 L2063.3,368.4 L2064.1,369.7 L2064.8,371.0 L2065.5,372.3 L2066.1,373.7 L2066.8,375.0 L2067.4,376.4 L2068.1,377.7 L2068.7,379.1 L2069.3,380.5 L2069.9,381.9 L2070.4,383.3 L2071.0,384.7 L2071.5,386.1 L2072.0,387.5 L2072.5,388.9 L2073.0,390.3 L2073.4,391.8 L2073.9,393.2 L2074.3,394.6 L2074.7,396.1 L2075.0,397.5 L2075.4,399.0 L2075.8,400.4 L2076.2,401.9 L2076.6,403.3 L2077.1,404.8 L2077.6,406.2 L2078.1,407.6 L2078.6,409.0 L2079.1,410.4 L2079.7,411.8 L2080.2,413.2 L2080.7,414.6 L2081.3,416.0 L2081.8,417.5 L2082.2,418.9 L2082.7,420.3 L2083.1,421.7 L2083.5,423.2 L2083.8,424.6 L2084.2,426.1 L2084.5,427.6 L2084.8,429.0 L2085.1,430.5 L2085.4,432.0 L2085.7,433.4 L2086.0,434.9 L2086.3,436.4 L2086.6,437.9 L2086.9,439.3 L2087.2,440.8 L2087.5,442.3 L2087.8,443.7 L2088.1,445.2 L2088.4,446.7 L2088.7,448.2 L2089.0,449.6 L2089.3,451.1 L2089.6,452.6 L2089.9,454.0 L2090.2,455.5 L2090.5,457.0 L2090.8,458.5 L2091.1,459.9 L2091.4,461.4 L2091.7,462.9 L2091.9,464.3 L2092.2,465.8 L2092.5,467.3 L2092.8,468.8 L2093.2,470.2 L2093.5,471.7 L2093.8,473.2 L2094.1,474.6 L2094.4,476.1 L2094.7,477.6 L2095.0,479.0 L2095.3,480.5 L2095.6,482.0 L2095.9,483.4 L2096.3,484.9 L2096.6,486.4 L2096.9,487.8 L2097.2,489.3 L2097.5,490.8 L2097.7,492.3 L2098.0,493.7 L2098.3,495.2 L2098.6,496.7 L2098.8,498.2 L2099.1,499.6 L2099.4,501.1 L2099.6,502.6 L2099.9,504.1 L2100.1,505.6 L2100.4,507.0 L2100.6,508.5 L2100.9,510.0 L2101.1,511.5 L2101.4,513.0 L2101.7,514.4 L2102.0,515.9 L2102.2,517.4 L2102.5,518.8 L2102.8,520.3 L2103.1,521.8 L2103.5,523.2 L2103.8,524.7 L2104.1,526.2 L2104.5,527.6 L2104.8,529.1 L2105.2,530.6 L2105.5,532.0 L2105.8,533.5 L2106.2,534.9 L2106.5,536.4 L2106.9,537.9 L2107.2,539.3 L2107.5,540.8 L2107.9,542.2 L2108.2,543.7 L2108.6,545.2 L2108.9,546.6 L2109.2,548.1 L2109.6,549.6 L2109.9,551.0 L2110.2,552.5 L2110.6,553.9 L2110.9,555.4 L2111.2,556.9 L2111.6,558.3 L2111.9,559.8 L2112.2,561.3 L2112.6,562.7 L2112.9,564.2 L2113.2,565.6 L2113.6,567.1 L2113.9,568.6 L2114.2,570.0 L2114.6,571.5 L2114.9,573.0 L2115.2,574.4 L2115.6,575.9 L2115.9,577.4 L2116.2,578.8 L2116.6,580.3 L2116.9,581.7 L2117.2,583.2 L2117.6,584.7 L2117.9,586.1 L2118.2,587.6 L2118.6,589.1 L2118.9,590.5 L2119.2,592.0 L2119.6,593.4 L2119.9,594.9 L2120.2,596.4 L2120.6,597.8 L2120.9,599.3 L2121.3,600.8 L2121.6,602.2 L2122.0,603.7 L2122.3,605.1 L2122.6,606.6 L2123.0,608.1 L2123.3,609.5 L2123.7,611.0 L2124.1,612.4 L2124.4,613.9 L2124.8,615.3 L2125.2,616.8 L2125.7,618.2 L2126.1,619.7 L2126.5,621.1 L2127.0,622.5 L2127.4,623.9 L2127.9,625.4 L2128.4,626.8 L2128.9,628.2 L2129.4,629.6 L2129.9,631.0 L2130.5,632.4 L2131.0,633.8 L2131.6,635.2 L2132.1,636.6 L2132.7,638.0 L2133.3,639.4 L2133.9,640.7 L2134.5,642.1 L2135.1,643.5 L2135.7,645.0 L2136.2,646.5 L2136.7,648.0 L2137.3,649.4 L2138.0,650.6 L2138.9,651.5 L2140.3,652.4 L2141.7,652.8 L2143.1,652.6 L2144.6,651.8 L2145.9,650.9 L2146.9,650.0 L2147.9,649.0 L2148.8,647.8 L2149.6,646.4 L2150.4,645.1 L2151.2,643.7 L2151.9,642.5 L2152.7,641.1 L2153.4,639.8 L2154.0,638.5 L2154.7,637.1 L2155.3,635.8 L2156.0,634.4 L2156.5,633.0 L2157.1,631.6 L2157.6,630.2 L2158.2,628.8 L2158.7,627.4 L2159.3,626.0 L2159.9,624.7 L2160.6,623.3 L2161.3,622.0 L2162.0,620.7 L2162.7,619.3 L2163.2,617.9 L2163.7,616.4 L2164.2,614.9 L2164.6,613.5 L2165.2,612.2 L2166.1,611.0 L2167.3,609.9 L2168.7,609.7 L2170.3,609.7 L2171.7,609.7 L2172.7,610.3 L2173.5,611.7 L2174.4,613.3 L2175.3,614.6 L2176.3,615.7 L2177.4,616.7 L2178.5,617.7 L2179.5,618.8 L2180.4,620.0 L2181.3,621.3 L2182.1,622.5 L2182.9,623.8 L2183.7,625.1 L2184.4,626.6 L2185.2,627.9 L2186.1,629.0 L2187.2,629.7 L2188.7,630.2 L2190.2,630.7 L2191.5,631.4 L2192.6,632.3 L2193.7,633.4 L2194.7,634.6 L2195.5,635.9 L2196.1,637.2 L2196.7,638.6 L2197.2,640.0 L2197.8,641.4 L2198.4,643.0 L2199.0,644.8 L2199.7,646.2 L2200.6,646.7 L2202.0,646.7 L2203.6,646.7 L2205.0,646.9 L2206.2,647.6 L2207.4,648.6 L2208.5,650.0" fill="none" stroke="#f00" stroke-width="7" stroke-linejoin="round"/>
<g id="markers" stroke="#000" stroke-linecap="round"><line x1="501.8" y1="865.0" x2="501.8" y2="939.1" stroke-width="6.5"/><line x1="496.9" y1="1277.6" x2="496.9" y2="1357.3" stroke-width="5.8"/><line x1="806.3" y1="256.3" x2="805.5" y2="608.4" stroke-width="5.3"/><line x1="845.5" y1="194.3" x2="845.5" y2="571.9" stroke-width="5.3"/><line x1="1550.5" y1="743.9" x2="1550.5" y2="1173.2" stroke-width="7"/><line x1="1698.6" y1="300.8" x2="1698.6" y2="768.0" stroke-width="5.1"/><line x1="1863.6" y1="293.3" x2="1863.6" y2="367.3" stroke-width="6.5"/><line x1="1863.6" y1="638.3" x2="1863.6" y2="712.3" stroke-width="6.5"/></g>
<line x1="1406.5" y1="1342.8" x2="1559.5" y2="1342.8" stroke="#000" stroke-width="7" stroke-linecap="round"/>
<line x1="1412.5" y1="1428.7" x2="1565.8" y2="1428.7" stroke="#f00" stroke-width="7" stroke-linecap="round"/>
<g id="labels" stroke="#000" stroke-width="0.5" stroke-linejoin="round"><text transform="translate(477.56,158.58) scale(1,0.9875)" font-size="69.39">(a)</text>
<text transform="translate(207.39,238.48) scale(1,0.9516)" font-size="57.81">(2)</text>
<text transform="translate(193.76,663.37) scale(1,0.9794)" font-size="56.72">(1)</text>
<text transform="translate(421.63,835.79) scale(1,1.0406)" font-size="68.59">3455</text>
<text transform="translate(423.22,1258.09) scale(1,1.0375)" font-size="68.80">3449</text>
<text transform="translate(864.13,252.68) scale(1,1.0333)" font-size="69.49">2919</text>
<text transform="translate(765.06,734.29) scale(1,1.0365)" font-size="68.73">2850</text>
<text transform="translate(1490.96,1242.98) scale(1,1.0380)" font-size="68.90">1635</text>
<text transform="translate(1624.79,887.89) scale(1,1.0339)" font-size="68.90">1384</text>
<text transform="translate(1800.34,428.10) scale(1,1.0577)" font-size="68.90">1117</text>
<text transform="translate(1802.83,784.09) scale(1,1.0278)" font-size="68.90">1083</text>
<text transform="translate(1300.54,1366.33) scale(1,0.9801)" font-size="56.90">(1)</text>
<text transform="translate(1300.95,1451.83) scale(1,1.0315)" font-size="61.55">(2)</text>
<text transform="translate(1577.03,1367.14) scale(1,1.0137)" font-size="68.76">before adsorption</text>
<text transform="translate(1583.78,1452.29) scale(1,1.0178)" font-size="68.70">after adsorption</text>
<text transform="translate(116.77,1648.43) scale(1,1.0114)" font-size="55.90">4000</text>
<text transform="translate(406.35,1648.43) scale(1,1.0114)" font-size="55.90">3500</text>
<text transform="translate(696.35,1648.43) scale(1,1.0114)" font-size="55.90">3000</text>
<text transform="translate(986.00,1648.43) scale(1,1.0114)" font-size="55.90">2500</text>
<text transform="translate(1276.00,1648.43) scale(1,1.0114)" font-size="55.90">2000</text>
<text transform="translate(1565.30,1648.43) scale(1,1.0114)" font-size="55.90">1500</text>
<text transform="translate(1855.30,1648.43) scale(1,1.0114)" font-size="55.90">1000</text>
<text transform="translate(2161.83,1648.43) scale(1,1.0114)" font-size="55.90">500</text>
<text font-size="69.1"><tspan x="891.55" y="1772.8">Wavenumber (cm</tspan><tspan x="1437.21" y="1734.9" font-size="42.0">-1</tspan><tspan x="1473.14" y="1772.8">)</tspan></text>
<text transform="translate(89.00,1074.68) rotate(-90)" font-size="70.06">Transmittance (%)</text></g>
</svg>
</body>
</html>
